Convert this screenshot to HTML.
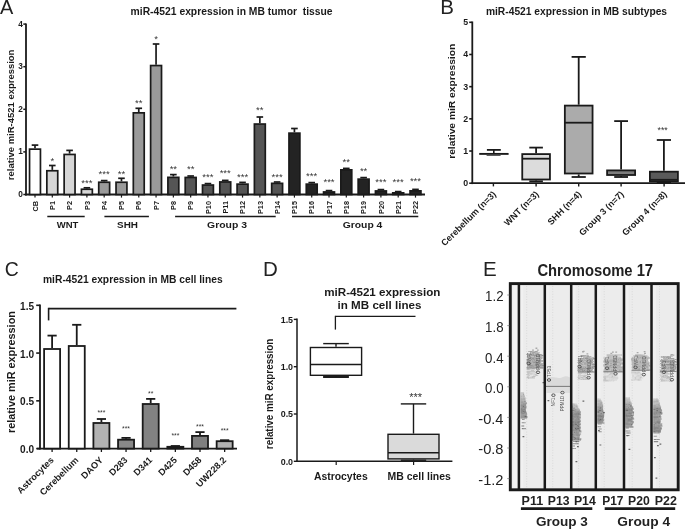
<!DOCTYPE html>
<html><head><meta charset="utf-8"><title>miR-4521 figure</title>
<style>
html,body{margin:0;padding:0;background:#fff;}
body{width:685px;height:530px;overflow:hidden;}
svg{display:block;font-family:"Liberation Sans", sans-serif;will-change:transform;}
</style></head>
<body>
<svg width="685" height="530" viewBox="0 0 685 530">
<defs><filter id="blur2" x="-20%" y="-20%" width="140%" height="140%"><feGaussianBlur stdDeviation="0.55"/></filter><filter id="blur" x="-20%" y="-20%" width="140%" height="140%"><feGaussianBlur stdDeviation="0.9"/></filter></defs>
<rect x="0" y="0" width="685" height="530" fill="#ffffff"/>
<text x="-0.1" y="14.4" font-size="20.5" font-weight="normal" text-anchor="start" fill="#222" textLength="13.3" lengthAdjust="spacingAndGlyphs">A</text>
<text x="130.6" y="15.1" font-size="10.3" font-weight="bold" text-anchor="start" fill="#1a1a1a" textLength="202" lengthAdjust="spacingAndGlyphs" xml:space="preserve">miR-4521 expression in MB tumor  tissue</text>
<line x1="26" y1="23.4" x2="26" y2="195.4" stroke="#1a1a1a" stroke-width="1.8"/>
<line x1="23.3" y1="194.5" x2="26" y2="194.5" stroke="#1a1a1a" stroke-width="1.5"/>
<text x="22.9" y="197" font-size="8.3" font-weight="bold" text-anchor="end" fill="#1a1a1a">0</text>
<line x1="23.3" y1="151.9" x2="26" y2="151.9" stroke="#1a1a1a" stroke-width="1.5"/>
<text x="22.9" y="154.4" font-size="8.3" font-weight="bold" text-anchor="end" fill="#1a1a1a">1</text>
<line x1="23.3" y1="109.3" x2="26" y2="109.3" stroke="#1a1a1a" stroke-width="1.5"/>
<text x="22.9" y="111.8" font-size="8.3" font-weight="bold" text-anchor="end" fill="#1a1a1a">2</text>
<line x1="23.3" y1="66.7" x2="26" y2="66.7" stroke="#1a1a1a" stroke-width="1.5"/>
<text x="22.9" y="69.2" font-size="8.3" font-weight="bold" text-anchor="end" fill="#1a1a1a">3</text>
<line x1="23.3" y1="24.1" x2="26" y2="24.1" stroke="#1a1a1a" stroke-width="1.5"/>
<text x="22.9" y="26.6" font-size="8.3" font-weight="bold" text-anchor="end" fill="#1a1a1a">4</text>
<text x="13.6" y="114.9" font-size="9.7" font-weight="bold" text-anchor="middle" fill="#1a1a1a" textLength="130.6" lengthAdjust="spacingAndGlyphs" transform="rotate(-90 13.6 114.9)">relative miR-4521 expression</text>
<line x1="25.1" y1="194.5" x2="425" y2="194.5" stroke="#1a1a1a" stroke-width="1.8"/>
<line x1="35" y1="148.3" x2="35" y2="145.1" stroke="#1a1a1a" stroke-width="1.7"/>
<line x1="31.7" y1="145.1" x2="38.3" y2="145.1" stroke="#1a1a1a" stroke-width="1.7"/>
<rect x="29.55" y="149.15" width="10.9" height="45.35" fill="#ffffff" stroke="#1a1a1a" stroke-width="1.7"/>
<line x1="35" y1="194.5" x2="35" y2="197.6" stroke="#1a1a1a" stroke-width="1.2"/>
<text x="37.7" y="201" font-size="7.3" font-weight="bold" text-anchor="end" fill="#1a1a1a" transform="rotate(-90 37.7 201)">CB</text>
<line x1="52.3" y1="169.9" x2="52.3" y2="165.5" stroke="#1a1a1a" stroke-width="1.7"/>
<line x1="49" y1="165.5" x2="55.59" y2="165.5" stroke="#1a1a1a" stroke-width="1.7"/>
<rect x="46.84" y="170.75" width="10.9" height="23.75" fill="#d6d6d6" stroke="#1a1a1a" stroke-width="1.7"/>
<line x1="52.3" y1="194.5" x2="52.3" y2="197.6" stroke="#1a1a1a" stroke-width="1.2"/>
<text x="55" y="201" font-size="7.3" font-weight="bold" text-anchor="end" fill="#1a1a1a" transform="rotate(-90 55 201)">P1</text>
<text x="52.3" y="164" font-size="9.6" font-weight="normal" text-anchor="middle" fill="#333">*</text>
<line x1="69.59" y1="153.6" x2="69.59" y2="150.4" stroke="#1a1a1a" stroke-width="1.7"/>
<line x1="66.29" y1="150.4" x2="72.89" y2="150.4" stroke="#1a1a1a" stroke-width="1.7"/>
<rect x="64.14" y="154.45" width="10.9" height="40.05" fill="#d6d6d6" stroke="#1a1a1a" stroke-width="1.7"/>
<line x1="69.59" y1="194.5" x2="69.59" y2="197.6" stroke="#1a1a1a" stroke-width="1.2"/>
<text x="72.29" y="201" font-size="7.3" font-weight="bold" text-anchor="end" fill="#1a1a1a" transform="rotate(-90 72.29 201)">P2</text>
<line x1="86.89" y1="188.4" x2="86.89" y2="187.8" stroke="#1a1a1a" stroke-width="1.7"/>
<line x1="83.59" y1="187.8" x2="90.19" y2="187.8" stroke="#1a1a1a" stroke-width="1.7"/>
<rect x="81.44" y="189.25" width="10.9" height="5.25" fill="#d6d6d6" stroke="#1a1a1a" stroke-width="1.7"/>
<line x1="86.89" y1="194.5" x2="86.89" y2="197.6" stroke="#1a1a1a" stroke-width="1.2"/>
<text x="89.59" y="201" font-size="7.3" font-weight="bold" text-anchor="end" fill="#1a1a1a" transform="rotate(-90 89.59 201)">P3</text>
<text x="86.89" y="185.6" font-size="9.6" font-weight="normal" text-anchor="middle" fill="#333">***</text>
<line x1="104.18" y1="181.4" x2="104.18" y2="180.6" stroke="#1a1a1a" stroke-width="1.7"/>
<line x1="100.88" y1="180.6" x2="107.48" y2="180.6" stroke="#1a1a1a" stroke-width="1.7"/>
<rect x="98.73" y="182.25" width="10.9" height="12.25" fill="#9a9a9a" stroke="#1a1a1a" stroke-width="1.7"/>
<line x1="104.18" y1="194.5" x2="104.18" y2="197.6" stroke="#1a1a1a" stroke-width="1.2"/>
<text x="106.88" y="201" font-size="7.3" font-weight="bold" text-anchor="end" fill="#1a1a1a" transform="rotate(-90 106.88 201)">P4</text>
<text x="104.18" y="176.6" font-size="9.6" font-weight="normal" text-anchor="middle" fill="#333">***</text>
<line x1="121.48" y1="181.4" x2="121.48" y2="178.3" stroke="#1a1a1a" stroke-width="1.7"/>
<line x1="118.18" y1="178.3" x2="124.78" y2="178.3" stroke="#1a1a1a" stroke-width="1.7"/>
<rect x="116.03" y="182.25" width="10.9" height="12.25" fill="#9a9a9a" stroke="#1a1a1a" stroke-width="1.7"/>
<line x1="121.48" y1="194.5" x2="121.48" y2="197.6" stroke="#1a1a1a" stroke-width="1.2"/>
<text x="124.18" y="201" font-size="7.3" font-weight="bold" text-anchor="end" fill="#1a1a1a" transform="rotate(-90 124.18 201)">P5</text>
<text x="121.48" y="176.8" font-size="9.6" font-weight="normal" text-anchor="middle" fill="#333">**</text>
<line x1="138.77" y1="112" x2="138.77" y2="108.3" stroke="#1a1a1a" stroke-width="1.7"/>
<line x1="135.47" y1="108.3" x2="142.07" y2="108.3" stroke="#1a1a1a" stroke-width="1.7"/>
<rect x="133.32" y="112.85" width="10.9" height="81.65" fill="#9a9a9a" stroke="#1a1a1a" stroke-width="1.7"/>
<line x1="138.77" y1="194.5" x2="138.77" y2="197.6" stroke="#1a1a1a" stroke-width="1.2"/>
<text x="141.47" y="201" font-size="7.3" font-weight="bold" text-anchor="end" fill="#1a1a1a" transform="rotate(-90 141.47 201)">P6</text>
<text x="138.77" y="105.5" font-size="9.6" font-weight="normal" text-anchor="middle" fill="#333">**</text>
<line x1="156.06" y1="64.7" x2="156.06" y2="44" stroke="#1a1a1a" stroke-width="1.7"/>
<line x1="152.76" y1="44" x2="159.37" y2="44" stroke="#1a1a1a" stroke-width="1.7"/>
<rect x="150.62" y="65.55" width="10.9" height="128.95" fill="#9a9a9a" stroke="#1a1a1a" stroke-width="1.7"/>
<line x1="156.06" y1="194.5" x2="156.06" y2="197.6" stroke="#1a1a1a" stroke-width="1.2"/>
<text x="158.76" y="201" font-size="7.3" font-weight="bold" text-anchor="end" fill="#1a1a1a" transform="rotate(-90 158.76 201)">P7</text>
<text x="156.06" y="42" font-size="9.6" font-weight="normal" text-anchor="middle" fill="#333">*</text>
<line x1="173.36" y1="176.5" x2="173.36" y2="174.6" stroke="#1a1a1a" stroke-width="1.7"/>
<line x1="170.06" y1="174.6" x2="176.66" y2="174.6" stroke="#1a1a1a" stroke-width="1.7"/>
<rect x="167.91" y="177.35" width="10.9" height="17.15" fill="#555555" stroke="#1a1a1a" stroke-width="1.7"/>
<line x1="173.36" y1="194.5" x2="173.36" y2="197.6" stroke="#1a1a1a" stroke-width="1.2"/>
<text x="176.06" y="201" font-size="7.3" font-weight="bold" text-anchor="end" fill="#1a1a1a" transform="rotate(-90 176.06 201)">P8</text>
<text x="173.36" y="171.8" font-size="9.6" font-weight="normal" text-anchor="middle" fill="#333">**</text>
<line x1="190.66" y1="176.6" x2="190.66" y2="176" stroke="#1a1a1a" stroke-width="1.7"/>
<line x1="187.36" y1="176" x2="193.96" y2="176" stroke="#1a1a1a" stroke-width="1.7"/>
<rect x="185.21" y="177.45" width="10.9" height="17.05" fill="#555555" stroke="#1a1a1a" stroke-width="1.7"/>
<line x1="190.66" y1="194.5" x2="190.66" y2="197.6" stroke="#1a1a1a" stroke-width="1.2"/>
<text x="193.36" y="201" font-size="7.3" font-weight="bold" text-anchor="end" fill="#1a1a1a" transform="rotate(-90 193.36 201)">P9</text>
<text x="190.66" y="171.8" font-size="9.6" font-weight="normal" text-anchor="middle" fill="#333">**</text>
<line x1="207.95" y1="184.2" x2="207.95" y2="183.6" stroke="#1a1a1a" stroke-width="1.7"/>
<line x1="204.65" y1="183.6" x2="211.25" y2="183.6" stroke="#1a1a1a" stroke-width="1.7"/>
<rect x="202.5" y="185.05" width="10.9" height="9.45" fill="#555555" stroke="#1a1a1a" stroke-width="1.7"/>
<line x1="207.95" y1="194.5" x2="207.95" y2="197.6" stroke="#1a1a1a" stroke-width="1.2"/>
<text x="210.65" y="201" font-size="7.3" font-weight="bold" text-anchor="end" fill="#1a1a1a" transform="rotate(-90 210.65 201)">P10</text>
<text x="207.95" y="179.7" font-size="9.6" font-weight="normal" text-anchor="middle" fill="#333">***</text>
<line x1="225.25" y1="181.1" x2="225.25" y2="180.4" stroke="#1a1a1a" stroke-width="1.7"/>
<line x1="221.94" y1="180.4" x2="228.55" y2="180.4" stroke="#1a1a1a" stroke-width="1.7"/>
<rect x="219.8" y="181.95" width="10.9" height="12.55" fill="#555555" stroke="#1a1a1a" stroke-width="1.7"/>
<line x1="225.25" y1="194.5" x2="225.25" y2="197.6" stroke="#1a1a1a" stroke-width="1.2"/>
<text x="227.94" y="201" font-size="7.3" font-weight="bold" text-anchor="end" fill="#1a1a1a" transform="rotate(-90 227.94 201)">P11</text>
<text x="225.25" y="175.6" font-size="9.6" font-weight="normal" text-anchor="middle" fill="#333">***</text>
<line x1="242.54" y1="183.3" x2="242.54" y2="182.4" stroke="#1a1a1a" stroke-width="1.7"/>
<line x1="239.24" y1="182.4" x2="245.84" y2="182.4" stroke="#1a1a1a" stroke-width="1.7"/>
<rect x="237.09" y="184.15" width="10.9" height="10.35" fill="#555555" stroke="#1a1a1a" stroke-width="1.7"/>
<line x1="242.54" y1="194.5" x2="242.54" y2="197.6" stroke="#1a1a1a" stroke-width="1.2"/>
<text x="245.24" y="201" font-size="7.3" font-weight="bold" text-anchor="end" fill="#1a1a1a" transform="rotate(-90 245.24 201)">P12</text>
<text x="242.54" y="179.7" font-size="9.6" font-weight="normal" text-anchor="middle" fill="#333">***</text>
<line x1="259.84" y1="123.2" x2="259.84" y2="117" stroke="#1a1a1a" stroke-width="1.7"/>
<line x1="256.54" y1="117" x2="263.14" y2="117" stroke="#1a1a1a" stroke-width="1.7"/>
<rect x="254.39" y="124.05" width="10.9" height="70.45" fill="#555555" stroke="#1a1a1a" stroke-width="1.7"/>
<line x1="259.84" y1="194.5" x2="259.84" y2="197.6" stroke="#1a1a1a" stroke-width="1.2"/>
<text x="262.54" y="201" font-size="7.3" font-weight="bold" text-anchor="end" fill="#1a1a1a" transform="rotate(-90 262.54 201)">P13</text>
<text x="259.84" y="112.9" font-size="9.6" font-weight="normal" text-anchor="middle" fill="#333">**</text>
<line x1="277.13" y1="182.5" x2="277.13" y2="182" stroke="#1a1a1a" stroke-width="1.7"/>
<line x1="273.83" y1="182" x2="280.43" y2="182" stroke="#1a1a1a" stroke-width="1.7"/>
<rect x="271.68" y="183.35" width="10.9" height="11.15" fill="#555555" stroke="#1a1a1a" stroke-width="1.7"/>
<line x1="277.13" y1="194.5" x2="277.13" y2="197.6" stroke="#1a1a1a" stroke-width="1.2"/>
<text x="279.83" y="201" font-size="7.3" font-weight="bold" text-anchor="end" fill="#1a1a1a" transform="rotate(-90 279.83 201)">P14</text>
<text x="277.13" y="179.5" font-size="9.6" font-weight="normal" text-anchor="middle" fill="#333">***</text>
<line x1="294.43" y1="132.3" x2="294.43" y2="128.5" stroke="#1a1a1a" stroke-width="1.7"/>
<line x1="291.12" y1="128.5" x2="297.73" y2="128.5" stroke="#1a1a1a" stroke-width="1.7"/>
<rect x="288.98" y="133.15" width="10.9" height="61.35" fill="#232323" stroke="#1a1a1a" stroke-width="1.7"/>
<line x1="294.43" y1="194.5" x2="294.43" y2="197.6" stroke="#1a1a1a" stroke-width="1.2"/>
<text x="297.12" y="201" font-size="7.3" font-weight="bold" text-anchor="end" fill="#1a1a1a" transform="rotate(-90 297.12 201)">P15</text>
<line x1="311.72" y1="183.3" x2="311.72" y2="182.6" stroke="#1a1a1a" stroke-width="1.7"/>
<line x1="308.42" y1="182.6" x2="315.02" y2="182.6" stroke="#1a1a1a" stroke-width="1.7"/>
<rect x="306.27" y="184.15" width="10.9" height="10.35" fill="#232323" stroke="#1a1a1a" stroke-width="1.7"/>
<line x1="311.72" y1="194.5" x2="311.72" y2="197.6" stroke="#1a1a1a" stroke-width="1.2"/>
<text x="314.42" y="201" font-size="7.3" font-weight="bold" text-anchor="end" fill="#1a1a1a" transform="rotate(-90 314.42 201)">P16</text>
<text x="311.72" y="178.5" font-size="9.6" font-weight="normal" text-anchor="middle" fill="#333">***</text>
<line x1="329.02" y1="191.1" x2="329.02" y2="190.6" stroke="#1a1a1a" stroke-width="1.7"/>
<line x1="325.72" y1="190.6" x2="332.32" y2="190.6" stroke="#1a1a1a" stroke-width="1.7"/>
<rect x="323.57" y="191.95" width="10.9" height="2.55" fill="#232323" stroke="#1a1a1a" stroke-width="1.7"/>
<line x1="329.02" y1="194.5" x2="329.02" y2="197.6" stroke="#1a1a1a" stroke-width="1.2"/>
<text x="331.72" y="201" font-size="7.3" font-weight="bold" text-anchor="end" fill="#1a1a1a" transform="rotate(-90 331.72 201)">P17</text>
<text x="329.02" y="185.3" font-size="9.6" font-weight="normal" text-anchor="middle" fill="#333">***</text>
<line x1="346.31" y1="169" x2="346.31" y2="168.4" stroke="#1a1a1a" stroke-width="1.7"/>
<line x1="343.01" y1="168.4" x2="349.61" y2="168.4" stroke="#1a1a1a" stroke-width="1.7"/>
<rect x="340.86" y="169.85" width="10.9" height="24.65" fill="#232323" stroke="#1a1a1a" stroke-width="1.7"/>
<line x1="346.31" y1="194.5" x2="346.31" y2="197.6" stroke="#1a1a1a" stroke-width="1.2"/>
<text x="349.01" y="201" font-size="7.3" font-weight="bold" text-anchor="end" fill="#1a1a1a" transform="rotate(-90 349.01 201)">P18</text>
<text x="346.31" y="164.7" font-size="9.6" font-weight="normal" text-anchor="middle" fill="#333">**</text>
<line x1="363.61" y1="178.3" x2="363.61" y2="177.6" stroke="#1a1a1a" stroke-width="1.7"/>
<line x1="360.31" y1="177.6" x2="366.91" y2="177.6" stroke="#1a1a1a" stroke-width="1.7"/>
<rect x="358.16" y="179.15" width="10.9" height="15.35" fill="#232323" stroke="#1a1a1a" stroke-width="1.7"/>
<line x1="363.61" y1="194.5" x2="363.61" y2="197.6" stroke="#1a1a1a" stroke-width="1.2"/>
<text x="366.31" y="201" font-size="7.3" font-weight="bold" text-anchor="end" fill="#1a1a1a" transform="rotate(-90 366.31 201)">P19</text>
<text x="363.61" y="173.7" font-size="9.6" font-weight="normal" text-anchor="middle" fill="#333">**</text>
<line x1="380.9" y1="190.1" x2="380.9" y2="189.6" stroke="#1a1a1a" stroke-width="1.7"/>
<line x1="377.6" y1="189.6" x2="384.2" y2="189.6" stroke="#1a1a1a" stroke-width="1.7"/>
<rect x="375.45" y="190.95" width="10.9" height="3.55" fill="#232323" stroke="#1a1a1a" stroke-width="1.7"/>
<line x1="380.9" y1="194.5" x2="380.9" y2="197.6" stroke="#1a1a1a" stroke-width="1.2"/>
<text x="383.6" y="201" font-size="7.3" font-weight="bold" text-anchor="end" fill="#1a1a1a" transform="rotate(-90 383.6 201)">P20</text>
<text x="380.9" y="185.4" font-size="9.6" font-weight="normal" text-anchor="middle" fill="#333">***</text>
<line x1="398.2" y1="192" x2="398.2" y2="191.6" stroke="#1a1a1a" stroke-width="1.7"/>
<line x1="394.9" y1="191.6" x2="401.5" y2="191.6" stroke="#1a1a1a" stroke-width="1.7"/>
<rect x="392.75" y="192.85" width="10.9" height="1.65" fill="#232323" stroke="#1a1a1a" stroke-width="1.7"/>
<line x1="398.2" y1="194.5" x2="398.2" y2="197.6" stroke="#1a1a1a" stroke-width="1.2"/>
<text x="400.9" y="201" font-size="7.3" font-weight="bold" text-anchor="end" fill="#1a1a1a" transform="rotate(-90 400.9 201)">P21</text>
<text x="398.2" y="184.6" font-size="9.6" font-weight="normal" text-anchor="middle" fill="#333">***</text>
<line x1="415.49" y1="190" x2="415.49" y2="189.4" stroke="#1a1a1a" stroke-width="1.7"/>
<line x1="412.19" y1="189.4" x2="418.79" y2="189.4" stroke="#1a1a1a" stroke-width="1.7"/>
<rect x="410.04" y="190.85" width="10.9" height="3.65" fill="#232323" stroke="#1a1a1a" stroke-width="1.7"/>
<line x1="415.49" y1="194.5" x2="415.49" y2="197.6" stroke="#1a1a1a" stroke-width="1.2"/>
<text x="418.19" y="201" font-size="7.3" font-weight="bold" text-anchor="end" fill="#1a1a1a" transform="rotate(-90 418.19 201)">P22</text>
<text x="415.49" y="183.8" font-size="9.6" font-weight="normal" text-anchor="middle" fill="#333">***</text>
<line x1="47.3" y1="216.5" x2="84.7" y2="216.5" stroke="#1a1a1a" stroke-width="1.6"/>
<line x1="104.4" y1="216.5" x2="148.9" y2="216.5" stroke="#1a1a1a" stroke-width="1.6"/>
<line x1="175.1" y1="216.5" x2="275.7" y2="216.5" stroke="#1a1a1a" stroke-width="1.6"/>
<line x1="292" y1="216.5" x2="418.3" y2="216.5" stroke="#1a1a1a" stroke-width="1.6"/>
<text x="67.6" y="228.2" font-size="9.9" font-weight="bold" text-anchor="middle" fill="#1a1a1a" textLength="21.6" lengthAdjust="spacingAndGlyphs">WNT</text>
<text x="127.5" y="228.2" font-size="9.9" font-weight="bold" text-anchor="middle" fill="#1a1a1a" textLength="20.9" lengthAdjust="spacingAndGlyphs">SHH</text>
<text x="227" y="228.2" font-size="9.9" font-weight="bold" text-anchor="middle" fill="#1a1a1a" textLength="39.9" lengthAdjust="spacingAndGlyphs">Group 3</text>
<text x="362.5" y="228.2" font-size="9.9" font-weight="bold" text-anchor="middle" fill="#1a1a1a" textLength="39.7" lengthAdjust="spacingAndGlyphs">Group 4</text>
<text x="440.2" y="14.4" font-size="20.5" font-weight="normal" text-anchor="start" fill="#222">B</text>
<text x="485.9" y="15.2" font-size="10.3" font-weight="bold" text-anchor="start" fill="#1a1a1a" textLength="181.2" lengthAdjust="spacingAndGlyphs">miR-4521 expression in MB subtypes</text>
<line x1="472.3" y1="21.5" x2="472.3" y2="184.1" stroke="#1a1a1a" stroke-width="1.8"/>
<line x1="469.2" y1="183.2" x2="472.3" y2="183.2" stroke="#1a1a1a" stroke-width="1.6"/>
<text x="468.1" y="186.2" font-size="8.8" font-weight="bold" text-anchor="end" fill="#1a1a1a">0</text>
<line x1="469.2" y1="151.02" x2="472.3" y2="151.02" stroke="#1a1a1a" stroke-width="1.6"/>
<text x="468.1" y="154.02" font-size="8.8" font-weight="bold" text-anchor="end" fill="#1a1a1a">1</text>
<line x1="469.2" y1="118.84" x2="472.3" y2="118.84" stroke="#1a1a1a" stroke-width="1.6"/>
<text x="468.1" y="121.84" font-size="8.8" font-weight="bold" text-anchor="end" fill="#1a1a1a">2</text>
<line x1="469.2" y1="86.66" x2="472.3" y2="86.66" stroke="#1a1a1a" stroke-width="1.6"/>
<text x="468.1" y="89.66" font-size="8.8" font-weight="bold" text-anchor="end" fill="#1a1a1a">3</text>
<line x1="469.2" y1="54.48" x2="472.3" y2="54.48" stroke="#1a1a1a" stroke-width="1.6"/>
<text x="468.1" y="57.48" font-size="8.8" font-weight="bold" text-anchor="end" fill="#1a1a1a">4</text>
<line x1="469.2" y1="22.3" x2="472.3" y2="22.3" stroke="#1a1a1a" stroke-width="1.6"/>
<text x="468.1" y="25.3" font-size="8.8" font-weight="bold" text-anchor="end" fill="#1a1a1a">5</text>
<text x="455.1" y="101.3" font-size="9.2" font-weight="bold" text-anchor="middle" fill="#1a1a1a" textLength="115.1" lengthAdjust="spacingAndGlyphs" transform="rotate(-90 455.1 101.3)">relative miR expression</text>
<line x1="471.4" y1="183.2" x2="685" y2="183.2" stroke="#1a1a1a" stroke-width="1.8"/>
<line x1="493.4" y1="183.2" x2="493.4" y2="186.4" stroke="#1a1a1a" stroke-width="1.4"/>
<line x1="536.1" y1="183.2" x2="536.1" y2="186.4" stroke="#1a1a1a" stroke-width="1.4"/>
<line x1="578.7" y1="183.2" x2="578.7" y2="186.4" stroke="#1a1a1a" stroke-width="1.4"/>
<line x1="621.1" y1="183.2" x2="621.1" y2="186.4" stroke="#1a1a1a" stroke-width="1.4"/>
<line x1="664.1" y1="183.2" x2="664.1" y2="186.4" stroke="#1a1a1a" stroke-width="1.4"/>
<line x1="479.2" y1="153.9" x2="508.6" y2="153.9" stroke="#1a1a1a" stroke-width="1.9"/>
<line x1="486.9" y1="149.9" x2="500.8" y2="149.9" stroke="#1a1a1a" stroke-width="1.8"/>
<line x1="493.8" y1="149.9" x2="493.8" y2="153.9" stroke="#1a1a1a" stroke-width="1.6"/>
<line x1="486.6" y1="155.4" x2="500.6" y2="155.4" stroke="#555" stroke-width="1.1"/>
<line x1="536.1" y1="147.6" x2="536.1" y2="153.2" stroke="#1a1a1a" stroke-width="1.8"/>
<line x1="529.3" y1="147.6" x2="542.9" y2="147.6" stroke="#1a1a1a" stroke-width="1.8"/>
<line x1="536.1" y1="180.4" x2="536.1" y2="181.3" stroke="#1a1a1a" stroke-width="1.8"/>
<line x1="529.3" y1="181.3" x2="542.9" y2="181.3" stroke="#1a1a1a" stroke-width="1.8"/>
<rect x="522.25" y="154.1" width="27.7" height="25.4" fill="#dcdcdc" stroke="#1a1a1a" stroke-width="1.8"/>
<line x1="522.25" y1="158.7" x2="549.95" y2="158.7" stroke="#1a1a1a" stroke-width="1.8"/>
<line x1="578.7" y1="56.9" x2="578.7" y2="104.7" stroke="#1a1a1a" stroke-width="1.8"/>
<line x1="571.6" y1="56.9" x2="585.8" y2="56.9" stroke="#1a1a1a" stroke-width="1.8"/>
<line x1="578.7" y1="174.4" x2="578.7" y2="177" stroke="#1a1a1a" stroke-width="1.8"/>
<line x1="571.6" y1="177" x2="585.8" y2="177" stroke="#1a1a1a" stroke-width="1.8"/>
<rect x="564.85" y="105.6" width="27.7" height="67.9" fill="#ababab" stroke="#1a1a1a" stroke-width="1.8"/>
<line x1="564.85" y1="122.7" x2="592.55" y2="122.7" stroke="#1a1a1a" stroke-width="1.8"/>
<line x1="621.1" y1="121.1" x2="621.1" y2="169.5" stroke="#1a1a1a" stroke-width="1.8"/>
<line x1="614.2" y1="121.1" x2="628" y2="121.1" stroke="#1a1a1a" stroke-width="1.8"/>
<line x1="621.1" y1="175.9" x2="621.1" y2="177" stroke="#1a1a1a" stroke-width="1.8"/>
<line x1="614.2" y1="177" x2="628" y2="177" stroke="#1a1a1a" stroke-width="1.8"/>
<rect x="607.1" y="170.4" width="28" height="4.6" fill="#7e7e7e" stroke="#1a1a1a" stroke-width="1.8"/>
<line x1="663.9" y1="140" x2="663.9" y2="170.8" stroke="#1a1a1a" stroke-width="1.8"/>
<line x1="656.8" y1="140" x2="671" y2="140" stroke="#1a1a1a" stroke-width="1.8"/>
<line x1="663.9" y1="182.3" x2="663.9" y2="182.4" stroke="#1a1a1a" stroke-width="1.8"/>
<line x1="656.8" y1="182.4" x2="671" y2="182.4" stroke="#1a1a1a" stroke-width="1.8"/>
<rect x="649.9" y="171.7" width="28" height="9.7" fill="#5a5a5a" stroke="#1a1a1a" stroke-width="1.8"/>
<line x1="649.9" y1="179.8" x2="677.9" y2="179.8" stroke="#1a1a1a" stroke-width="1.8"/>
<text x="662.6" y="132.5" font-size="8.8" font-weight="normal" text-anchor="middle" fill="#333">***</text>
<text x="496.6" y="194.8" font-size="9" font-weight="bold" text-anchor="end" fill="#1a1a1a" transform="rotate(-45 496.6 194.8)">Cerebellum (n=3)</text>
<text x="539.3" y="194.8" font-size="9" font-weight="bold" text-anchor="end" fill="#1a1a1a" transform="rotate(-45 539.3 194.8)">WNT (n=3)</text>
<text x="581.9" y="194.8" font-size="9" font-weight="bold" text-anchor="end" fill="#1a1a1a" transform="rotate(-45 581.9 194.8)">SHH (n=4)</text>
<text x="624.3" y="194.8" font-size="9" font-weight="bold" text-anchor="end" fill="#1a1a1a" transform="rotate(-45 624.3 194.8)">Group 3 (n=7)</text>
<text x="667.3" y="194.8" font-size="9" font-weight="bold" text-anchor="end" fill="#1a1a1a" transform="rotate(-45 667.3 194.8)">Group 4 (n=8)</text>
<text x="4.8" y="275.9" font-size="20.5" font-weight="normal" text-anchor="start" fill="#222" textLength="14" lengthAdjust="spacingAndGlyphs">C</text>
<text x="43" y="283" font-size="10.3" font-weight="bold" text-anchor="start" fill="#1a1a1a" textLength="179.6" lengthAdjust="spacingAndGlyphs">miR-4521 expression in MB cell lines</text>
<line x1="40" y1="304.5" x2="40" y2="449.5" stroke="#1a1a1a" stroke-width="1.8"/>
<line x1="36.2" y1="448.6" x2="40" y2="448.6" stroke="#1a1a1a" stroke-width="1.6"/>
<text x="34.1" y="453.2" font-size="10" font-weight="bold" text-anchor="end" fill="#1a1a1a" textLength="14" lengthAdjust="spacingAndGlyphs">0.0</text>
<line x1="36.2" y1="400.84" x2="40" y2="400.84" stroke="#1a1a1a" stroke-width="1.6"/>
<text x="34.1" y="405.44" font-size="10" font-weight="bold" text-anchor="end" fill="#1a1a1a" textLength="14" lengthAdjust="spacingAndGlyphs">0.5</text>
<line x1="36.2" y1="353.07" x2="40" y2="353.07" stroke="#1a1a1a" stroke-width="1.6"/>
<text x="34.1" y="357.67" font-size="10" font-weight="bold" text-anchor="end" fill="#1a1a1a" textLength="14" lengthAdjust="spacingAndGlyphs">1.0</text>
<line x1="36.2" y1="305.31" x2="40" y2="305.31" stroke="#1a1a1a" stroke-width="1.6"/>
<text x="34.1" y="309.91" font-size="10" font-weight="bold" text-anchor="end" fill="#1a1a1a" textLength="14" lengthAdjust="spacingAndGlyphs">1.5</text>
<text x="14.6" y="372.1" font-size="10.9" font-weight="bold" text-anchor="middle" fill="#1a1a1a" textLength="122" lengthAdjust="spacingAndGlyphs" transform="rotate(-90 14.6 372.1)">relative miR expression</text>
<line x1="37" y1="448.6" x2="237" y2="448.6" stroke="#1a1a1a" stroke-width="1.8"/>
<line x1="52.1" y1="348.1" x2="52.1" y2="335.6" stroke="#1a1a1a" stroke-width="1.8"/>
<line x1="47.5" y1="335.6" x2="56.7" y2="335.6" stroke="#1a1a1a" stroke-width="1.8"/>
<rect x="44.1" y="349" width="16" height="99.6" fill="#ffffff" stroke="#1a1a1a" stroke-width="1.8"/>
<line x1="52.1" y1="448.6" x2="52.1" y2="452" stroke="#1a1a1a" stroke-width="1.3"/>
<text x="54.3" y="460.7" font-size="9.2" font-weight="bold" text-anchor="end" fill="#1a1a1a" transform="rotate(-45 54.3 460.7)">Astrocytes</text>
<line x1="76.75" y1="345.1" x2="76.75" y2="324.8" stroke="#1a1a1a" stroke-width="1.8"/>
<line x1="72.15" y1="324.8" x2="81.35" y2="324.8" stroke="#1a1a1a" stroke-width="1.8"/>
<rect x="68.75" y="346" width="16" height="102.6" fill="#ffffff" stroke="#1a1a1a" stroke-width="1.8"/>
<line x1="76.75" y1="448.6" x2="76.75" y2="452" stroke="#1a1a1a" stroke-width="1.3"/>
<text x="78.95" y="460.7" font-size="9.2" font-weight="bold" text-anchor="end" fill="#1a1a1a" transform="rotate(-45 78.95 460.7)">Cerebellum</text>
<line x1="101.4" y1="422.1" x2="101.4" y2="419" stroke="#1a1a1a" stroke-width="1.8"/>
<line x1="96.8" y1="419" x2="106" y2="419" stroke="#1a1a1a" stroke-width="1.8"/>
<rect x="93.4" y="423" width="16" height="25.6" fill="#b2b2b2" stroke="#1a1a1a" stroke-width="1.8"/>
<line x1="101.4" y1="448.6" x2="101.4" y2="452" stroke="#1a1a1a" stroke-width="1.3"/>
<text x="103.6" y="460.7" font-size="9.2" font-weight="bold" text-anchor="end" fill="#1a1a1a" transform="rotate(-45 103.6 460.7)">DAOY</text>
<text x="101.4" y="414.7" font-size="6.8" font-weight="normal" text-anchor="middle" fill="#333">***</text>
<line x1="126.05" y1="438.8" x2="126.05" y2="437.9" stroke="#1a1a1a" stroke-width="1.8"/>
<line x1="121.45" y1="437.9" x2="130.65" y2="437.9" stroke="#1a1a1a" stroke-width="1.8"/>
<rect x="118.05" y="439.7" width="16" height="8.9" fill="#888888" stroke="#1a1a1a" stroke-width="1.8"/>
<line x1="126.05" y1="448.6" x2="126.05" y2="452" stroke="#1a1a1a" stroke-width="1.3"/>
<text x="128.25" y="460.7" font-size="9.2" font-weight="bold" text-anchor="end" fill="#1a1a1a" transform="rotate(-45 128.25 460.7)">D283</text>
<text x="126.05" y="431.3" font-size="6.8" font-weight="normal" text-anchor="middle" fill="#333">***</text>
<line x1="150.7" y1="403.1" x2="150.7" y2="398.9" stroke="#1a1a1a" stroke-width="1.8"/>
<line x1="146.1" y1="398.9" x2="155.3" y2="398.9" stroke="#1a1a1a" stroke-width="1.8"/>
<rect x="142.7" y="404" width="16" height="44.6" fill="#828282" stroke="#1a1a1a" stroke-width="1.8"/>
<line x1="150.7" y1="448.6" x2="150.7" y2="452" stroke="#1a1a1a" stroke-width="1.3"/>
<text x="152.9" y="460.7" font-size="9.2" font-weight="bold" text-anchor="end" fill="#1a1a1a" transform="rotate(-45 152.9 460.7)">D341</text>
<text x="150.7" y="396.1" font-size="6.8" font-weight="normal" text-anchor="middle" fill="#333">**</text>
<line x1="175.35" y1="445.9" x2="175.35" y2="446" stroke="#1a1a1a" stroke-width="1.8"/>
<line x1="170.75" y1="446" x2="179.95" y2="446" stroke="#1a1a1a" stroke-width="1.8"/>
<rect x="167.35" y="446.8" width="16" height="1.8" fill="#333333" stroke="#1a1a1a" stroke-width="1.8"/>
<line x1="175.35" y1="448.6" x2="175.35" y2="452" stroke="#1a1a1a" stroke-width="1.3"/>
<text x="177.55" y="460.7" font-size="9.2" font-weight="bold" text-anchor="end" fill="#1a1a1a" transform="rotate(-45 177.55 460.7)">D425</text>
<text x="175.35" y="438.4" font-size="6.8" font-weight="normal" text-anchor="middle" fill="#333">***</text>
<line x1="200" y1="435" x2="200" y2="432.1" stroke="#1a1a1a" stroke-width="1.8"/>
<line x1="195.4" y1="432.1" x2="204.6" y2="432.1" stroke="#1a1a1a" stroke-width="1.8"/>
<rect x="192" y="435.9" width="16" height="12.7" fill="#808080" stroke="#1a1a1a" stroke-width="1.8"/>
<line x1="200" y1="448.6" x2="200" y2="452" stroke="#1a1a1a" stroke-width="1.3"/>
<text x="202.2" y="460.7" font-size="9.2" font-weight="bold" text-anchor="end" fill="#1a1a1a" transform="rotate(-45 202.2 460.7)">D458</text>
<text x="200" y="428.9" font-size="6.8" font-weight="normal" text-anchor="middle" fill="#333">***</text>
<line x1="224.65" y1="440.3" x2="224.65" y2="440.2" stroke="#1a1a1a" stroke-width="1.8"/>
<line x1="220.05" y1="440.2" x2="229.25" y2="440.2" stroke="#1a1a1a" stroke-width="1.8"/>
<rect x="216.65" y="441.2" width="16" height="7.4" fill="#b2b2b2" stroke="#1a1a1a" stroke-width="1.8"/>
<line x1="224.65" y1="448.6" x2="224.65" y2="452" stroke="#1a1a1a" stroke-width="1.3"/>
<text x="226.85" y="460.7" font-size="9.2" font-weight="bold" text-anchor="end" fill="#1a1a1a" transform="rotate(-45 226.85 460.7)">UW228.2</text>
<text x="224.65" y="433.1" font-size="6.8" font-weight="normal" text-anchor="middle" fill="#333">***</text>
<line x1="48.6" y1="308.6" x2="236.4" y2="308.6" stroke="#1a1a1a" stroke-width="1.6"/>
<line x1="48.6" y1="307.8" x2="48.6" y2="320.4" stroke="#1a1a1a" stroke-width="1.6"/>
<text x="263.1" y="275.9" font-size="20.5" font-weight="normal" text-anchor="start" fill="#222">D</text>
<text x="382.3" y="295.6" font-size="11.4" font-weight="bold" text-anchor="middle" fill="#1a1a1a" textLength="116.2" lengthAdjust="spacingAndGlyphs">miR-4521 expression</text>
<text x="379.5" y="308.9" font-size="11.4" font-weight="bold" text-anchor="middle" fill="#1a1a1a" textLength="83.8" lengthAdjust="spacingAndGlyphs">in MB cell lines</text>
<line x1="297" y1="318.6" x2="297" y2="462" stroke="#1a1a1a" stroke-width="1.5"/>
<line x1="293.8" y1="461.3" x2="297" y2="461.3" stroke="#1a1a1a" stroke-width="1.4"/>
<text x="293.1" y="464.5" font-size="9.3" font-weight="bold" text-anchor="end" fill="#1a1a1a" textLength="12.4" lengthAdjust="spacingAndGlyphs">0.0</text>
<line x1="293.8" y1="414" x2="297" y2="414" stroke="#1a1a1a" stroke-width="1.4"/>
<text x="293.1" y="417.2" font-size="9.3" font-weight="bold" text-anchor="end" fill="#1a1a1a" textLength="12.4" lengthAdjust="spacingAndGlyphs">0.5</text>
<line x1="293.8" y1="366.7" x2="297" y2="366.7" stroke="#1a1a1a" stroke-width="1.4"/>
<text x="293.1" y="369.9" font-size="9.3" font-weight="bold" text-anchor="end" fill="#1a1a1a" textLength="12.4" lengthAdjust="spacingAndGlyphs">1.0</text>
<line x1="293.8" y1="319.4" x2="297" y2="319.4" stroke="#1a1a1a" stroke-width="1.4"/>
<text x="293.1" y="322.6" font-size="9.3" font-weight="bold" text-anchor="end" fill="#1a1a1a" textLength="12.4" lengthAdjust="spacingAndGlyphs">1.5</text>
<text x="273.2" y="393.9" font-size="10" font-weight="bold" text-anchor="middle" fill="#1a1a1a" textLength="110.5" lengthAdjust="spacingAndGlyphs" transform="rotate(-90 273.2 393.9)">relative miR expression</text>
<line x1="296.3" y1="461.3" x2="452.4" y2="461.3" stroke="#1a1a1a" stroke-width="1.5"/>
<line x1="336.2" y1="461.3" x2="336.2" y2="465" stroke="#1a1a1a" stroke-width="1.2"/>
<line x1="413.6" y1="461.3" x2="413.6" y2="465" stroke="#1a1a1a" stroke-width="1.2"/>
<line x1="336" y1="343.6" x2="336" y2="346.8" stroke="#1a1a1a" stroke-width="1.4"/>
<line x1="323.2" y1="343.6" x2="348.8" y2="343.6" stroke="#1a1a1a" stroke-width="1.4"/>
<line x1="336" y1="376" x2="336" y2="377" stroke="#1a1a1a" stroke-width="1.4"/>
<line x1="323.2" y1="377" x2="348.8" y2="377" stroke="#1a1a1a" stroke-width="1.4"/>
<rect x="310.4" y="347.5" width="51.2" height="27.8" fill="#ffffff" stroke="#1a1a1a" stroke-width="1.4"/>
<line x1="310.4" y1="364.5" x2="361.6" y2="364.5" stroke="#1a1a1a" stroke-width="1.4"/>
<line x1="323.2" y1="377" x2="348.8" y2="377" stroke="#1a1a1a" stroke-width="1.9"/>
<line x1="413.5" y1="403.9" x2="413.5" y2="433.6" stroke="#1a1a1a" stroke-width="1.4"/>
<line x1="400.8" y1="403.9" x2="426.2" y2="403.9" stroke="#1a1a1a" stroke-width="1.4"/>
<line x1="413.5" y1="459.6" x2="413.5" y2="460.2" stroke="#1a1a1a" stroke-width="1.4"/>
<line x1="400.8" y1="460.2" x2="426.2" y2="460.2" stroke="#1a1a1a" stroke-width="1.4"/>
<rect x="388" y="434.3" width="51" height="24.6" fill="#dadada" stroke="#1a1a1a" stroke-width="1.4"/>
<line x1="388" y1="452.7" x2="439" y2="452.7" stroke="#1a1a1a" stroke-width="1.4"/>
<text x="415.6" y="401" font-size="11" font-weight="normal" text-anchor="middle" fill="#333">***</text>
<line x1="335.4" y1="316.4" x2="415.5" y2="316.4" stroke="#1a1a1a" stroke-width="1.3"/>
<line x1="335.4" y1="315.8" x2="335.4" y2="329.6" stroke="#1a1a1a" stroke-width="1.3"/>
<text x="340.8" y="479.6" font-size="10" font-weight="bold" text-anchor="middle" fill="#1a1a1a" textLength="53.8" lengthAdjust="spacingAndGlyphs">Astrocytes</text>
<text x="419.2" y="479.6" font-size="10" font-weight="bold" text-anchor="middle" fill="#1a1a1a" textLength="63.3" lengthAdjust="spacingAndGlyphs">MB cell lines</text>
<text x="483.1" y="276.2" font-size="20.5" font-weight="normal" text-anchor="start" fill="#222">E</text>
<text x="537.4" y="276.2" font-size="16" font-weight="bold" text-anchor="start" fill="#222" textLength="115.7" lengthAdjust="spacingAndGlyphs">Chromosome 17</text>
<rect x="510.7" y="284" width="167.5" height="205.3" fill="#ececec" stroke="none" stroke-width="0"/>
<rect x="513.3" y="285.5" width="4.4" height="202.5" fill="#f1f1f1" stroke="none" stroke-width="0"/>
<rect x="520.2" y="285.5" width="3.2" height="202.5" fill="#f1f1f1" stroke="none" stroke-width="0"/>
<line x1="526.67" y1="286" x2="526.67" y2="488" stroke="#d2d2d2" stroke-width="0.7" stroke-dasharray="1 1.6"/>
<rect x="546.1" y="285.5" width="3.2" height="202.5" fill="#f1f1f1" stroke="none" stroke-width="0"/>
<line x1="552.72" y1="286" x2="552.72" y2="488" stroke="#d2d2d2" stroke-width="0.7" stroke-dasharray="1 1.6"/>
<rect x="572.5" y="285.5" width="3.2" height="202.5" fill="#f1f1f1" stroke="none" stroke-width="0"/>
<line x1="578.58" y1="286" x2="578.58" y2="488" stroke="#d2d2d2" stroke-width="0.7" stroke-dasharray="1 1.6"/>
<rect x="597.1" y="285.5" width="3.2" height="202.5" fill="#f1f1f1" stroke="none" stroke-width="0"/>
<line x1="604.26" y1="286" x2="604.26" y2="488" stroke="#d2d2d2" stroke-width="0.7" stroke-dasharray="1 1.6"/>
<rect x="625.3" y="285.5" width="3.2" height="202.5" fill="#f1f1f1" stroke="none" stroke-width="0"/>
<line x1="632.25" y1="286" x2="632.25" y2="488" stroke="#d2d2d2" stroke-width="0.7" stroke-dasharray="1 1.6"/>
<rect x="652.8" y="285.5" width="3.2" height="202.5" fill="#f1f1f1" stroke="none" stroke-width="0"/>
<line x1="659.51" y1="286" x2="659.51" y2="488" stroke="#d2d2d2" stroke-width="0.7" stroke-dasharray="1 1.6"/>
<g filter="url(#blur2)">
<path d="M528.2 351.0h1.7v1.05h-1.7zM534.4 353.0h1.8v1.05h-1.8zM538.1 353.0h1.2v1.05h-1.2zM535.2 356.0h1.5v1.05h-1.5zM536.7 356.0h2.6v1.05h-2.6zM539.3 356.0h1.7v1.05h-1.7zM535.0 357.0h2.4v1.05h-2.4zM529.9 358.0h2.1v1.05h-2.1zM526.4 359.0h2.9v1.05h-2.9zM526.5 360.0h1.8v1.05h-1.8zM537.4 361.0h1.6v1.05h-1.6zM530.2 362.0h2.9v1.05h-2.9zM526.8 363.0h2.1v1.05h-2.1zM532.4 363.0h2.5v1.05h-2.5zM540.0 363.0h2.3v1.05h-2.3zM526.9 364.0h2.8v1.05h-2.8zM531.4 364.0h3.1v1.05h-3.1zM543.4 365.0h0.4v1.05h-0.4zM527.0 366.0h1.4v1.05h-1.4zM534.0 366.0h2.4v1.05h-2.4zM526.6 367.0h2.1v1.05h-2.1zM539.5 367.0h1.5v1.05h-1.5zM541.0 367.0h1.5v1.05h-1.5zM584.0 355.0h2.5v1.05h-2.5zM580.4 356.0h1.4v1.05h-1.4zM585.3 356.0h1.3v1.05h-1.3zM588.1 357.0h1.9v1.05h-1.9zM577.8 358.0h1.3v1.05h-1.3zM590.0 358.0h2.6v1.05h-2.6zM578.7 359.0h2.4v1.05h-2.4zM581.1 359.0h2.8v1.05h-2.8zM583.4 360.0h1.8v1.05h-1.8zM587.6 360.0h2.6v1.05h-2.6zM578.1 361.0h2.1v1.05h-2.1zM582.6 361.0h1.7v1.05h-1.7zM592.2 361.0h1.6v1.05h-1.6zM577.4 362.0h2.6v1.05h-2.6zM581.5 362.0h2.0v1.05h-2.0zM583.4 362.0h2.9v1.05h-2.9zM586.3 362.0h1.4v1.05h-1.4zM590.4 363.0h1.9v1.05h-1.9zM583.3 364.0h2.9v1.05h-2.9zM587.6 364.0h2.1v1.05h-2.1zM589.7 364.0h2.0v1.05h-2.0zM584.4 365.0h1.3v1.05h-1.3zM587.9 365.0h1.7v1.05h-1.7zM578.7 366.0h2.6v1.05h-2.6zM586.8 369.0h1.5v1.05h-1.5zM589.8 369.0h3.2v1.05h-3.2zM620.8 354.5h1.3v1.05h-1.3zM607.7 356.5h2.5v1.05h-2.5zM606.5 358.5h2.2v1.05h-2.2zM612.3 358.5h2.2v1.05h-2.2zM605.5 359.5h2.6v1.05h-2.6zM608.1 359.5h1.9v1.05h-1.9zM604.5 363.5h2.5v1.05h-2.5zM612.3 363.5h1.9v1.05h-1.9zM614.1 363.5h1.9v1.05h-1.9zM607.7 364.5h2.4v1.05h-2.4zM620.8 364.5h0.5v1.05h-0.5zM611.7 365.5h1.4v1.05h-1.4zM618.4 365.5h2.5v1.05h-2.5zM615.1 366.5h1.9v1.05h-1.9zM617.0 366.5h1.6v1.05h-1.6zM617.8 367.5h1.4v1.05h-1.4zM620.7 368.5h2.1v1.05h-2.1zM616.1 369.5h2.6v1.05h-2.6zM614.7 370.5h2.8v1.05h-2.8zM636.9 356.5h2.9v1.05h-2.9zM637.5 357.5h2.5v1.05h-2.5zM633.9 358.5h2.9v1.05h-2.9zM645.0 358.5h1.7v1.05h-1.7zM631.0 359.5h2.0v1.05h-2.0zM633.0 359.5h1.3v1.05h-1.3zM634.3 359.5h2.1v1.05h-2.1zM646.2 359.5h1.5v1.05h-1.5zM631.7 360.5h2.3v1.05h-2.3zM646.9 360.5h1.3v1.05h-1.3zM636.5 361.5h3.0v1.05h-3.0zM631.4 363.5h2.1v1.05h-2.1zM633.5 363.5h2.8v1.05h-2.8zM636.3 363.5h2.8v1.05h-2.8zM640.6 363.5h3.1v1.05h-3.1zM635.2 364.5h3.1v1.05h-3.1zM638.4 364.5h3.1v1.05h-3.1zM647.9 366.5h1.5v1.05h-1.5zM648.6 368.5h1.1v1.05h-1.1zM632.4 369.5h2.5v1.05h-2.5zM669.4 356.0h2.2v1.05h-2.2zM664.0 359.0h2.4v1.05h-2.4zM666.4 359.0h2.2v1.05h-2.2zM665.2 365.0h1.6v1.05h-1.6zM661.1 366.0h1.5v1.05h-1.5zM672.0 366.0h1.4v1.05h-1.4zM675.5 369.0h0.5v1.05h-0.5zM659.9 370.0h2.7v1.05h-2.7zM667.5 370.0h3.1v1.05h-3.1zM670.6 370.0h2.7v1.05h-2.7zM520.6 392.5h2.4v1.05h-2.4zM520.6 394.5h2.1v1.05h-2.1zM522.5 397.5h2.6v1.05h-2.6zM572.0 404.5h2.2v1.05h-2.2zM599.3 399.5h1.6v1.05h-1.6zM597.3 401.5h1.8v1.05h-1.8zM628.4 397.5h1.5v1.05h-1.5zM628.4 400.5h1.9v1.05h-1.9zM630.4 401.5h0.8v1.05h-0.8zM656.0 399.5h2.7v1.05h-2.7zM653.2 400.5h3.1v1.05h-3.1z" fill="#aeaeae"/>
<path d="M529.8 351.0h3.0v1.05h-3.0zM534.9 351.0h2.8v1.05h-2.8zM532.8 352.0h3.0v1.05h-3.0zM538.6 352.0h0.9v1.05h-0.9zM536.2 353.0h1.9v1.05h-1.9zM526.3 354.0h3.0v1.05h-3.0zM527.4 355.0h2.8v1.05h-2.8zM530.3 355.0h2.9v1.05h-2.9zM540.3 355.0h1.7v1.05h-1.7zM533.4 356.0h1.8v1.05h-1.8zM529.5 357.0h2.6v1.05h-2.6zM534.2 358.0h2.8v1.05h-2.8zM532.2 359.0h3.1v1.05h-3.1zM538.4 359.0h2.9v1.05h-2.9zM533.8 360.0h1.7v1.05h-1.7zM541.4 360.0h1.3v1.05h-1.3zM539.1 361.0h2.1v1.05h-2.1zM526.3 362.0h1.9v1.05h-1.9zM531.1 363.0h1.3v1.05h-1.3zM534.9 363.0h1.5v1.05h-1.5zM536.4 363.0h2.0v1.05h-2.0zM542.3 363.0h0.9v1.05h-0.9zM539.8 364.0h3.0v1.05h-3.0zM528.4 366.0h2.7v1.05h-2.7zM531.1 366.0h2.9v1.05h-2.9zM537.3 367.0h2.2v1.05h-2.2zM542.5 367.0h0.6v1.05h-0.6zM586.6 356.0h3.1v1.05h-3.1zM579.1 358.0h2.7v1.05h-2.7zM581.8 358.0h2.7v1.05h-2.7zM588.8 359.0h3.0v1.05h-3.0zM580.3 361.0h2.4v1.05h-2.4zM586.2 363.0h1.5v1.05h-1.5zM578.2 364.0h2.0v1.05h-2.0zM577.5 365.0h2.9v1.05h-2.9zM591.5 366.0h3.0v1.05h-3.0zM586.5 367.0h2.3v1.05h-2.3zM588.8 367.0h2.7v1.05h-2.7zM577.5 368.0h2.6v1.05h-2.6zM580.1 370.0h1.7v1.05h-1.7zM579.5 371.0h2.1v1.05h-2.1zM584.6 371.0h2.4v1.05h-2.4zM591.8 371.0h1.5v1.05h-1.5zM617.2 357.5h1.7v1.05h-1.7zM604.3 358.5h2.2v1.05h-2.2zM619.1 358.5h3.1v1.05h-3.1zM604.1 359.5h1.4v1.05h-1.4zM615.3 359.5h2.7v1.05h-2.7zM617.6 360.5h2.5v1.05h-2.5zM603.4 361.5h1.9v1.05h-1.9zM609.2 361.5h3.0v1.05h-3.0zM614.9 361.5h3.1v1.05h-3.1zM615.2 362.5h2.6v1.05h-2.6zM620.0 363.5h1.4v1.05h-1.4zM619.5 364.5h1.3v1.05h-1.3zM606.3 365.5h2.7v1.05h-2.7zM605.8 367.5h2.0v1.05h-2.0zM621.8 367.5h1.1v1.05h-1.1zM619.4 368.5h1.3v1.05h-1.3zM605.2 370.5h3.1v1.05h-3.1zM610.7 370.5h2.2v1.05h-2.2zM618.9 370.5h2.8v1.05h-2.8zM603.6 371.5h3.0v1.05h-3.0zM614.1 371.5h2.1v1.05h-2.1zM635.1 354.5h2.6v1.05h-2.6zM637.7 354.5h2.2v1.05h-2.2zM639.9 354.5h1.8v1.05h-1.8zM634.6 355.5h3.0v1.05h-3.0zM641.4 356.5h3.0v1.05h-3.0zM644.4 356.5h2.4v1.05h-2.4zM648.5 356.5h0.5v1.05h-0.5zM644.5 357.5h2.7v1.05h-2.7zM639.0 358.5h3.0v1.05h-3.0zM636.3 360.5h3.1v1.05h-3.1zM644.2 360.5h2.6v1.05h-2.6zM639.2 363.5h1.4v1.05h-1.4zM647.3 364.5h2.5v1.05h-2.5zM639.8 365.5h2.3v1.05h-2.3zM648.6 365.5h1.8v1.05h-1.8zM631.8 366.5h1.8v1.05h-1.8zM637.4 366.5h1.9v1.05h-1.9zM642.0 367.5h1.3v1.05h-1.3zM642.4 368.5h1.5v1.05h-1.5zM647.0 368.5h1.6v1.05h-1.6zM634.9 369.5h2.9v1.05h-2.9zM640.4 369.5h2.7v1.05h-2.7zM665.5 357.0h1.5v1.05h-1.5zM667.0 357.0h2.7v1.05h-2.7zM669.8 357.0h1.2v1.05h-1.2zM669.2 358.0h2.8v1.05h-2.8zM672.0 358.0h2.3v1.05h-2.3zM674.5 359.0h1.8v1.05h-1.8zM661.1 362.0h2.0v1.05h-2.0zM672.1 362.0h2.9v1.05h-2.9zM670.7 363.0h2.2v1.05h-2.2zM673.4 364.0h1.8v1.05h-1.8zM675.3 364.0h1.4v1.05h-1.4zM670.2 365.0h2.0v1.05h-2.0zM670.5 366.0h1.6v1.05h-1.6zM673.4 366.0h2.6v1.05h-2.6zM667.4 367.0h2.5v1.05h-2.5zM674.2 367.0h1.4v1.05h-1.4zM675.5 367.0h0.7v1.05h-0.7zM661.0 368.0h1.9v1.05h-1.9zM663.4 369.0h1.8v1.05h-1.8zM672.8 369.0h2.7v1.05h-2.7zM664.4 370.0h3.1v1.05h-3.1zM673.3 370.0h1.9v1.05h-1.9zM659.9 371.0h1.4v1.05h-1.4zM673.6 371.0h1.5v1.05h-1.5zM520.6 397.5h1.9v1.05h-1.9zM520.6 400.5h2.9v1.05h-2.9zM572.0 405.5h1.4v1.05h-1.4zM572.0 406.5h1.6v1.05h-1.6zM575.8 406.5h2.0v1.05h-2.0zM572.0 407.5h1.3v1.05h-1.3zM572.2 448.0h2.6v1.05h-2.6zM599.1 401.5h2.0v1.05h-2.0zM601.1 401.5h1.1v1.05h-1.1zM597.3 404.5h1.9v1.05h-1.9zM625.4 400.5h3.0v1.05h-3.0zM656.3 400.5h2.1v1.05h-2.1zM657.7 401.5h1.1v1.05h-1.1zM653.2 404.5h2.9v1.05h-2.9zM656.1 404.5h1.5v1.05h-1.5zM659.5 404.5h0.6v1.05h-0.6z" fill="#a2a2a2"/>
<path d="M532.8 351.0h2.1v1.05h-2.1zM535.9 352.0h2.7v1.05h-2.7zM526.8 357.0h2.7v1.05h-2.7zM532.4 367.0h2.8v1.05h-2.8zM526.8 369.0h3.1v1.05h-3.1zM578.7 356.0h1.8v1.05h-1.8zM583.0 357.0h2.3v1.05h-2.3zM591.3 357.0h2.7v1.05h-2.7zM578.2 363.0h2.9v1.05h-2.9zM581.2 363.0h2.5v1.05h-2.5zM585.7 365.0h2.2v1.05h-2.2zM589.6 365.0h2.0v1.05h-2.0zM583.1 376.0h2.0v1.05h-2.0zM613.7 354.5h1.3v1.05h-1.3zM611.7 356.5h1.7v1.05h-1.7zM615.4 356.5h3.0v1.05h-3.0zM620.1 356.5h0.3v1.05h-0.3zM603.3 357.5h2.6v1.05h-2.6zM605.9 357.5h2.8v1.05h-2.8zM612.7 357.5h2.1v1.05h-2.1zM608.7 358.5h2.3v1.05h-2.3zM611.0 358.5h1.3v1.05h-1.3zM614.5 358.5h2.6v1.05h-2.6zM607.0 363.5h2.9v1.05h-2.9zM610.0 368.5h2.1v1.05h-2.1zM614.1 368.5h2.4v1.05h-2.4zM621.7 370.5h0.8v1.05h-0.8zM606.3 372.5h2.3v1.05h-2.3zM611.6 375.5h1.7v1.05h-1.7zM611.4 376.5h1.4v1.05h-1.4zM610.8 379.5h1.7v1.05h-1.7zM641.7 354.5h2.0v1.05h-2.0zM638.0 359.5h2.9v1.05h-2.9zM644.8 359.5h1.4v1.05h-1.4zM636.8 372.5h2.4v1.05h-2.4zM637.4 379.5h2.5v1.05h-2.5zM660.8 357.0h2.3v1.05h-2.3zM676.3 359.0h1.4v1.05h-1.4zM675.0 362.0h1.7v1.05h-1.7zM662.8 363.0h2.0v1.05h-2.0zM669.9 367.0h1.5v1.05h-1.5zM660.5 369.0h2.9v1.05h-2.9zM669.6 369.0h1.5v1.05h-1.5zM664.3 375.0h2.0v1.05h-2.0zM662.0 376.0h2.2v1.05h-2.2zM668.1 376.0h1.4v1.05h-1.4zM667.0 377.0h2.1v1.05h-2.1zM669.7 380.0h1.8v1.05h-1.8zM597.3 399.5h2.0v1.05h-2.0zM600.5 400.5h1.3v1.05h-1.3zM625.4 398.5h2.7v1.05h-2.7zM628.1 398.5h1.4v1.05h-1.4zM628.9 399.5h1.5v1.05h-1.5zM625.4 401.5h1.3v1.05h-1.3zM655.7 398.5h2.2v1.05h-2.2zM653.2 399.5h2.8v1.05h-2.8zM658.4 400.5h0.7v1.05h-0.7zM653.2 402.5h1.9v1.05h-1.9z" fill="#bababa"/>
<path d="M531.4 352.0h1.4v1.05h-1.4zM532.4 354.0h1.7v1.05h-1.7zM539.3 354.0h2.1v1.05h-2.1zM527.5 358.0h2.4v1.05h-2.4zM529.3 359.0h1.4v1.05h-1.4zM535.3 359.0h3.1v1.05h-3.1zM528.3 360.0h3.1v1.05h-3.1zM535.5 360.0h1.6v1.05h-1.6zM538.9 360.0h2.5v1.05h-2.5zM542.7 360.0h0.4v1.05h-0.4zM526.8 361.0h1.9v1.05h-1.9zM531.5 361.0h1.4v1.05h-1.4zM534.9 361.0h2.5v1.05h-2.5zM528.2 362.0h2.0v1.05h-2.0zM538.4 363.0h1.6v1.05h-1.6zM536.7 364.0h3.1v1.05h-3.1zM537.9 365.0h1.7v1.05h-1.7zM539.6 365.0h2.3v1.05h-2.3zM592.6 358.0h2.2v1.05h-2.2zM577.7 360.0h2.7v1.05h-2.7zM580.4 360.0h3.0v1.05h-3.0zM588.9 361.0h2.0v1.05h-2.0zM590.8 361.0h1.4v1.05h-1.4zM590.8 362.0h1.5v1.05h-1.5zM591.7 364.0h2.3v1.05h-2.3zM594.0 364.0h0.7v1.05h-0.7zM594.5 366.0h1.0v1.05h-1.0zM579.7 367.0h3.0v1.05h-3.0zM584.7 367.0h1.7v1.05h-1.7zM580.1 368.0h1.6v1.05h-1.6zM581.7 368.0h2.8v1.05h-2.8zM584.4 368.0h1.5v1.05h-1.5zM577.6 369.0h1.8v1.05h-1.8zM588.3 369.0h1.5v1.05h-1.5zM577.4 370.0h2.7v1.05h-2.7zM587.4 370.0h2.6v1.05h-2.6zM590.0 370.0h2.5v1.05h-2.5zM577.9 371.0h1.6v1.05h-1.6zM616.0 355.5h1.5v1.05h-1.5zM618.9 357.5h2.2v1.05h-2.2zM610.0 359.5h2.3v1.05h-2.3zM619.9 359.5h2.0v1.05h-2.0zM605.2 360.5h2.1v1.05h-2.1zM612.2 361.5h1.4v1.05h-1.4zM612.6 362.5h2.6v1.05h-2.6zM603.3 364.5h3.0v1.05h-3.0zM606.4 364.5h1.3v1.05h-1.3zM610.1 364.5h3.2v1.05h-3.2zM609.0 365.5h2.7v1.05h-2.7zM615.7 365.5h2.7v1.05h-2.7zM607.8 367.5h2.5v1.05h-2.5zM608.8 371.5h1.7v1.05h-1.7zM617.7 371.5h3.2v1.05h-3.2zM640.3 355.5h3.2v1.05h-3.2zM646.3 355.5h1.1v1.05h-1.1zM635.7 357.5h1.8v1.05h-1.8zM631.0 358.5h2.8v1.05h-2.8zM642.0 358.5h3.0v1.05h-3.0zM646.6 358.5h1.8v1.05h-1.8zM634.0 360.5h2.3v1.05h-2.3zM639.4 360.5h1.6v1.05h-1.6zM642.9 360.5h1.4v1.05h-1.4zM633.9 361.5h2.6v1.05h-2.6zM639.5 361.5h1.4v1.05h-1.4zM643.1 361.5h1.8v1.05h-1.8zM644.9 361.5h2.1v1.05h-2.1zM632.2 362.5h1.6v1.05h-1.6zM639.3 362.5h2.0v1.05h-2.0zM641.4 362.5h2.9v1.05h-2.9zM643.7 363.5h1.8v1.05h-1.8zM645.5 363.5h2.5v1.05h-2.5zM633.9 364.5h1.3v1.05h-1.3zM632.4 365.5h2.6v1.05h-2.6zM637.3 365.5h2.5v1.05h-2.5zM642.1 365.5h3.1v1.05h-3.1zM633.6 366.5h2.3v1.05h-2.3zM635.9 366.5h1.5v1.05h-1.5zM639.3 366.5h1.8v1.05h-1.8zM636.3 367.5h1.9v1.05h-1.9zM643.3 367.5h2.9v1.05h-2.9zM634.3 368.5h1.6v1.05h-1.6zM671.6 361.0h2.3v1.05h-2.3zM664.7 362.0h1.8v1.05h-1.8zM660.8 364.0h3.0v1.05h-3.0zM671.2 364.0h2.3v1.05h-2.3zM660.7 365.0h2.4v1.05h-2.4zM674.1 365.0h1.6v1.05h-1.6zM662.9 368.0h1.4v1.05h-1.4zM664.2 368.0h2.5v1.05h-2.5zM669.7 368.0h2.7v1.05h-2.7zM661.3 371.0h2.1v1.05h-2.1zM671.8 371.0h1.8v1.05h-1.8zM525.1 397.5h0.5v1.05h-0.5zM520.6 398.5h1.9v1.05h-1.9zM524.7 422.2h1.0v1.05h-1.0zM523.8 428.1h2.3v1.05h-2.3zM575.2 405.5h2.4v1.05h-2.4zM576.4 408.5h1.8v1.05h-1.8zM597.3 400.5h3.2v1.05h-3.2zM599.9 403.5h2.4v1.05h-2.4zM599.2 404.5h1.3v1.05h-1.3zM597.3 405.5h2.4v1.05h-2.4zM600.6 423.5h1.2v1.05h-1.2zM599.7 426.3h1.3v1.05h-1.3zM625.4 402.5h2.3v1.05h-2.3zM627.7 402.5h1.4v1.05h-1.4zM628.0 430.4h2.4v1.05h-2.4zM653.2 401.5h2.6v1.05h-2.6zM655.8 401.5h2.0v1.05h-2.0zM656.0 403.5h2.7v1.05h-2.7zM658.7 403.5h0.9v1.05h-0.9zM655.9 405.5h2.9v1.05h-2.9zM653.2 406.5h2.9v1.05h-2.9zM658.5 406.5h2.6v1.05h-2.6zM656.1 432.5h2.1v1.05h-2.1zM653.7 435.8h2.5v1.05h-2.5z" fill="#9c9c9c"/>
<path d="M531.3 353.0h3.1v1.05h-3.1zM534.2 354.0h3.1v1.05h-3.1zM532.1 357.0h2.9v1.05h-2.9zM537.4 357.0h2.7v1.05h-2.7zM540.1 357.0h1.8v1.05h-1.8zM540.2 358.0h2.2v1.05h-2.2zM531.4 360.0h2.4v1.05h-2.4zM537.1 360.0h1.8v1.05h-1.8zM528.7 361.0h2.8v1.05h-2.8zM532.9 361.0h2.1v1.05h-2.1zM537.8 362.0h1.3v1.05h-1.3zM539.1 362.0h2.1v1.05h-2.1zM532.9 365.0h2.1v1.05h-2.1zM536.4 366.0h2.5v1.05h-2.5zM530.1 367.0h2.2v1.05h-2.2zM535.1 367.0h2.2v1.05h-2.2zM581.6 355.0h2.4v1.05h-2.4zM581.8 356.0h2.1v1.05h-2.1zM585.2 357.0h2.8v1.05h-2.8zM588.0 358.0h1.9v1.05h-1.9zM585.7 359.0h3.1v1.05h-3.1zM591.8 359.0h1.8v1.05h-1.8zM585.1 360.0h2.5v1.05h-2.5zM590.2 360.0h2.2v1.05h-2.2zM592.4 360.0h0.7v1.05h-0.7zM580.0 362.0h1.4v1.05h-1.4zM583.7 363.0h2.5v1.05h-2.5zM587.7 363.0h2.7v1.05h-2.7zM592.3 363.0h1.3v1.05h-1.3zM580.2 364.0h3.1v1.05h-3.1zM586.2 364.0h1.4v1.05h-1.4zM580.3 365.0h1.3v1.05h-1.3zM593.3 365.0h0.7v1.05h-0.7zM586.9 366.0h2.5v1.05h-2.5zM589.4 366.0h2.1v1.05h-2.1zM582.7 367.0h2.0v1.05h-2.0zM593.5 367.0h0.5v1.05h-0.5zM590.6 368.0h2.6v1.05h-2.6zM583.6 369.0h3.2v1.05h-3.2zM585.3 370.0h2.1v1.05h-2.1zM589.1 371.0h2.7v1.05h-2.7zM606.6 354.5h2.9v1.05h-2.9zM609.5 354.5h2.0v1.05h-2.0zM611.6 354.5h2.1v1.05h-2.1zM615.0 354.5h1.8v1.05h-1.8zM610.2 356.5h1.5v1.05h-1.5zM613.5 356.5h2.0v1.05h-2.0zM614.8 357.5h2.4v1.05h-2.4zM617.1 358.5h2.0v1.05h-2.0zM617.9 359.5h1.9v1.05h-1.9zM621.9 359.5h1.3v1.05h-1.3zM615.3 360.5h2.3v1.05h-2.3zM605.3 361.5h2.5v1.05h-2.5zM607.8 361.5h1.4v1.05h-1.4zM617.9 361.5h2.6v1.05h-2.6zM604.4 362.5h3.0v1.05h-3.0zM607.5 362.5h2.5v1.05h-2.5zM609.9 362.5h2.6v1.05h-2.6zM609.9 363.5h2.4v1.05h-2.4zM610.9 366.5h1.3v1.05h-1.3zM620.8 366.5h2.0v1.05h-2.0zM622.8 366.5h0.7v1.05h-0.7zM604.2 367.5h1.6v1.05h-1.6zM610.3 367.5h2.0v1.05h-2.0zM612.3 367.5h3.1v1.05h-3.1zM619.2 367.5h2.6v1.05h-2.6zM607.5 368.5h2.4v1.05h-2.4zM616.5 368.5h2.8v1.05h-2.8zM603.7 369.5h2.9v1.05h-2.9zM606.6 369.5h1.4v1.05h-1.4zM607.9 369.5h2.8v1.05h-2.8zM613.2 369.5h2.9v1.05h-2.9zM620.7 369.5h2.0v1.05h-2.0zM606.6 371.5h2.2v1.05h-2.2zM610.4 371.5h1.6v1.05h-1.6zM612.1 371.5h2.0v1.05h-2.0zM620.9 371.5h1.5v1.05h-1.5zM633.2 355.5h1.5v1.05h-1.5zM637.6 355.5h2.7v1.05h-2.7zM643.5 355.5h2.8v1.05h-2.8zM639.8 356.5h1.7v1.05h-1.7zM633.2 357.5h2.5v1.05h-2.5zM639.9 357.5h2.8v1.05h-2.8zM631.5 361.5h2.4v1.05h-2.4zM640.9 361.5h2.2v1.05h-2.2zM636.5 362.5h2.9v1.05h-2.9zM644.3 362.5h2.1v1.05h-2.1zM631.8 364.5h2.1v1.05h-2.1zM645.2 365.5h1.9v1.05h-1.9zM647.0 365.5h1.5v1.05h-1.5zM641.1 366.5h1.5v1.05h-1.5zM642.6 366.5h2.9v1.05h-2.9zM645.5 366.5h2.4v1.05h-2.4zM631.7 367.5h2.2v1.05h-2.2zM633.9 367.5h2.5v1.05h-2.5zM638.2 367.5h1.7v1.05h-1.7zM639.9 367.5h2.0v1.05h-2.0zM646.2 367.5h2.4v1.05h-2.4zM635.9 368.5h3.0v1.05h-3.0zM638.8 368.5h1.4v1.05h-1.4zM637.7 369.5h2.7v1.05h-2.7zM643.2 369.5h2.8v1.05h-2.8zM662.7 356.0h1.3v1.05h-1.3zM666.9 356.0h2.6v1.05h-2.6zM663.1 357.0h2.4v1.05h-2.4zM660.9 359.0h1.6v1.05h-1.6zM660.1 360.0h1.9v1.05h-1.9zM664.8 360.0h2.4v1.05h-2.4zM667.3 360.0h2.2v1.05h-2.2zM674.0 360.0h1.1v1.05h-1.1zM660.1 361.0h2.2v1.05h-2.2zM676.0 361.0h0.5v1.05h-0.5zM663.0 362.0h1.7v1.05h-1.7zM666.4 362.0h2.6v1.05h-2.6zM670.6 362.0h1.5v1.05h-1.5zM659.9 363.0h2.8v1.05h-2.8zM668.4 363.0h2.3v1.05h-2.3zM672.9 363.0h2.4v1.05h-2.4zM666.8 365.0h1.9v1.05h-1.9zM668.7 365.0h1.5v1.05h-1.5zM662.6 366.0h1.8v1.05h-1.8zM661.9 367.0h2.6v1.05h-2.6zM664.5 367.0h2.9v1.05h-2.9zM666.8 368.0h2.9v1.05h-2.9zM672.3 368.0h2.1v1.05h-2.1zM668.2 369.0h1.4v1.05h-1.4zM669.2 371.0h2.6v1.05h-2.6zM522.7 393.5h1.4v1.05h-1.4zM522.7 394.5h1.6v1.05h-1.6zM523.5 395.5h1.2v1.05h-1.2zM522.4 396.5h2.3v1.05h-2.3zM522.5 399.5h3.1v1.05h-3.1zM573.6 406.5h2.2v1.05h-2.2zM578.2 408.5h1.1v1.05h-1.1zM597.3 402.5h2.9v1.05h-2.9zM626.7 401.5h1.8v1.05h-1.8zM628.5 401.5h1.9v1.05h-1.9zM629.1 402.5h2.6v1.05h-2.6zM658.3 402.5h1.6v1.05h-1.6zM653.2 403.5h2.8v1.05h-2.8z" fill="#a8a8a8"/>
<path d="M529.3 354.0h3.1v1.05h-3.1zM520.6 402.5h1.9v1.05h-1.9zM522.5 402.5h3.1v1.05h-3.1zM526.5 413.5h0.6v1.05h-0.6zM520.6 414.5h1.6v1.05h-1.6zM522.2 414.5h1.9v1.05h-1.9zM576.5 410.5h2.8v1.05h-2.8zM572.0 411.5h1.9v1.05h-1.9zM573.4 412.5h1.9v1.05h-1.9zM577.3 431.5h2.7v1.05h-2.7zM576.1 433.5h1.6v1.05h-1.6zM574.6 436.5h1.9v1.05h-1.9zM601.5 405.5h1.5v1.05h-1.5zM597.3 408.5h2.2v1.05h-2.2zM597.3 417.5h2.5v1.05h-2.5zM630.0 404.5h1.9v1.05h-1.9zM628.4 405.5h1.4v1.05h-1.4zM629.8 405.5h2.0v1.05h-2.0zM629.6 406.5h1.9v1.05h-1.9zM631.4 406.5h1.8v1.05h-1.8zM628.2 411.5h2.1v1.05h-2.1zM629.6 422.5h1.9v1.05h-1.9zM625.6 430.4h2.4v1.05h-2.4zM653.2 410.5h3.1v1.05h-3.1zM658.4 410.5h2.5v1.05h-2.5zM656.3 414.5h1.7v1.05h-1.7zM658.0 414.5h2.5v1.05h-2.5zM653.2 418.5h3.0v1.05h-3.0zM656.2 418.5h1.4v1.05h-1.4zM659.8 418.5h2.0v1.05h-2.0zM656.6 420.5h2.6v1.05h-2.6zM653.2 423.5h2.0v1.05h-2.0zM653.2 424.5h3.2v1.05h-3.2zM656.4 424.5h2.8v1.05h-2.8zM658.2 432.5h1.5v1.05h-1.5zM653.8 439.0h2.8v1.05h-2.8zM653.8 441.1h1.9v1.05h-1.9zM655.7 441.1h2.5v1.05h-2.5z" fill="#8a8a8a"/>
<path d="M537.3 354.0h2.0v1.05h-2.0zM533.1 355.0h2.5v1.05h-2.5zM535.6 355.0h1.9v1.05h-1.9zM531.9 358.0h2.3v1.05h-2.3zM537.0 358.0h3.2v1.05h-3.2zM530.7 359.0h1.5v1.05h-1.5zM533.1 362.0h2.0v1.05h-2.0zM535.1 362.0h2.7v1.05h-2.7zM528.9 363.0h2.2v1.05h-2.2zM529.7 364.0h1.7v1.05h-1.7zM527.2 365.0h2.9v1.05h-2.9zM530.1 365.0h2.8v1.05h-2.8zM535.0 365.0h2.9v1.05h-2.9zM541.9 365.0h1.5v1.05h-1.5zM584.6 358.0h1.7v1.05h-1.7zM586.3 358.0h1.7v1.05h-1.7zM585.8 361.0h1.6v1.05h-1.6zM592.3 362.0h0.8v1.05h-0.8zM578.0 367.0h1.7v1.05h-1.7zM591.5 367.0h2.0v1.05h-2.0zM589.0 368.0h1.7v1.05h-1.7zM579.4 369.0h2.3v1.05h-2.3zM581.7 369.0h1.9v1.05h-1.9zM581.8 370.0h1.5v1.05h-1.5zM581.6 371.0h3.0v1.05h-3.0zM603.5 360.5h1.7v1.05h-1.7zM607.3 360.5h2.9v1.05h-2.9zM610.2 360.5h2.9v1.05h-2.9zM620.1 360.5h1.8v1.05h-1.8zM613.5 361.5h1.3v1.05h-1.3zM617.7 362.5h2.7v1.05h-2.7zM620.5 362.5h1.6v1.05h-1.6zM615.4 364.5h2.5v1.05h-2.5zM604.8 365.5h1.5v1.05h-1.5zM608.2 366.5h2.7v1.05h-2.7zM612.2 366.5h2.9v1.05h-2.9zM618.6 366.5h2.2v1.05h-2.2zM615.4 367.5h2.4v1.05h-2.4zM610.8 369.5h2.4v1.05h-2.4zM616.1 371.5h1.6v1.05h-1.6zM622.4 371.5h0.6v1.05h-0.6zM631.8 357.5h1.5v1.05h-1.5zM642.8 357.5h1.7v1.05h-1.7zM647.2 357.5h2.7v1.05h-2.7zM636.8 358.5h2.2v1.05h-2.2zM646.3 362.5h2.8v1.05h-2.8zM649.1 362.5h0.6v1.05h-0.6zM644.3 364.5h3.0v1.05h-3.0zM646.0 369.5h3.0v1.05h-3.0zM667.8 358.0h1.4v1.05h-1.4zM662.0 360.0h2.9v1.05h-2.9zM669.5 360.0h1.8v1.05h-1.8zM666.1 361.0h3.1v1.05h-3.1zM663.8 364.0h2.0v1.05h-2.0zM663.1 365.0h2.0v1.05h-2.0zM672.2 365.0h1.9v1.05h-1.9zM674.4 368.0h1.5v1.05h-1.5zM662.6 370.0h1.8v1.05h-1.8zM522.5 398.5h2.4v1.05h-2.4zM520.6 399.5h1.9v1.05h-1.9zM523.5 400.5h2.2v1.05h-2.2zM523.4 401.5h2.6v1.05h-2.6zM521.9 419.0h1.9v1.05h-1.9zM577.4 407.5h0.9v1.05h-0.9zM574.6 408.5h1.8v1.05h-1.8zM575.2 409.5h2.4v1.05h-2.4zM577.6 409.5h2.3v1.05h-2.3zM579.0 417.5h1.8v1.05h-1.8zM580.0 431.5h1.4v1.05h-1.4zM573.9 435.5h1.5v1.05h-1.5zM575.4 435.5h1.3v1.05h-1.3zM573.1 441.0h3.0v1.05h-3.0zM578.2 443.3h0.8v1.05h-0.8zM574.8 448.0h1.1v1.05h-1.1zM597.3 403.5h2.6v1.05h-2.6zM600.5 404.5h2.7v1.05h-2.7zM597.3 413.5h2.1v1.05h-2.1zM598.7 428.5h2.6v1.05h-2.6zM601.3 431.2h0.5v1.05h-0.5zM625.4 403.5h2.9v1.05h-2.9zM630.0 403.5h1.6v1.05h-1.6zM625.4 404.5h2.2v1.05h-2.2zM625.4 407.5h2.2v1.05h-2.2zM629.4 425.5h1.3v1.05h-1.3zM628.9 432.5h1.8v1.05h-1.8zM658.8 405.5h1.7v1.05h-1.7zM657.6 418.5h2.1v1.05h-2.1zM653.2 420.5h2.0v1.05h-2.0zM659.2 424.5h2.0v1.05h-2.0zM659.7 426.5h1.0v1.05h-1.0zM653.4 432.5h2.7v1.05h-2.7zM656.3 435.8h0.8v1.05h-0.8zM656.6 439.0h3.1v1.05h-3.1z" fill="#969696"/>
<path d="M541.5 354.0h0.7v1.05h-0.7zM537.5 355.0h2.8v1.05h-2.8zM542.0 355.0h1.3v1.05h-1.3zM534.5 364.0h2.2v1.05h-2.2zM586.0 368.0h3.0v1.05h-3.0zM593.3 368.0h0.7v1.05h-0.7zM583.3 370.0h2.0v1.05h-2.0zM587.0 371.0h2.1v1.05h-2.1zM612.3 359.5h3.0v1.05h-3.0zM613.1 360.5h2.3v1.05h-2.3zM613.3 364.5h2.1v1.05h-2.1zM617.9 364.5h1.6v1.05h-1.6zM618.7 369.5h2.0v1.05h-2.0zM633.8 362.5h2.7v1.05h-2.7zM648.0 363.5h0.9v1.05h-0.9zM649.0 369.5h1.6v1.05h-1.6zM671.3 360.0h2.7v1.05h-2.7zM662.3 361.0h1.8v1.05h-1.8zM664.1 361.0h2.0v1.05h-2.0zM669.2 361.0h2.4v1.05h-2.4zM673.9 361.0h2.1v1.05h-2.1zM665.8 364.0h2.5v1.05h-2.5zM668.2 364.0h3.0v1.05h-3.0zM663.4 371.0h3.1v1.05h-3.1zM666.4 371.0h2.7v1.05h-2.7zM524.8 398.5h0.6v1.05h-0.6zM520.6 403.5h2.0v1.05h-2.0zM524.2 414.5h2.6v1.05h-2.6zM521.7 422.2h3.0v1.05h-3.0zM573.3 407.5h1.9v1.05h-1.9zM572.0 408.5h2.6v1.05h-2.6zM574.1 417.5h2.4v1.05h-2.4zM573.8 433.5h2.2v1.05h-2.2zM580.1 433.5h1.0v1.05h-1.0zM576.7 435.5h1.6v1.05h-1.6zM572.7 443.3h1.4v1.05h-1.4zM574.1 443.3h2.1v1.05h-2.1zM572.7 445.4h2.3v1.05h-2.3zM600.2 402.5h2.3v1.05h-2.3zM599.7 405.5h1.7v1.05h-1.7zM601.5 407.5h1.3v1.05h-1.3zM600.2 411.5h2.0v1.05h-2.0zM602.0 413.5h1.8v1.05h-1.8zM597.8 423.5h2.9v1.05h-2.9zM597.6 426.3h2.1v1.05h-2.1zM598.7 431.2h2.6v1.05h-2.6zM628.3 403.5h1.7v1.05h-1.7zM627.6 404.5h2.4v1.05h-2.4zM625.4 405.5h3.0v1.05h-3.0zM627.8 406.5h1.8v1.05h-1.8zM627.6 407.5h2.1v1.05h-2.1zM625.4 411.5h2.8v1.05h-2.8zM630.3 411.5h1.8v1.05h-1.8zM631.3 413.5h0.7v1.05h-0.7zM628.5 417.5h2.2v1.05h-2.2zM628.0 422.5h1.6v1.05h-1.6zM625.4 425.5h1.8v1.05h-1.8zM627.2 425.5h2.3v1.05h-2.3zM630.7 425.5h1.8v1.05h-1.8zM657.6 404.5h2.0v1.05h-2.0zM656.1 406.5h2.4v1.05h-2.4zM655.2 420.5h1.4v1.05h-1.4zM659.2 420.5h1.6v1.05h-1.6zM661.2 424.5h0.8v1.05h-0.8z" fill="#909090"/>
<path d="M527.1 356.0h1.4v1.05h-1.4zM541.1 356.0h1.5v1.05h-1.5zM541.1 361.0h1.9v1.05h-1.9zM538.9 366.0h2.1v1.05h-2.1zM541.0 366.0h2.1v1.05h-2.1zM528.8 367.0h1.3v1.05h-1.3zM580.3 355.0h1.3v1.05h-1.3zM586.5 355.0h2.3v1.05h-2.3zM583.9 356.0h1.4v1.05h-1.4zM589.7 356.0h1.7v1.05h-1.7zM583.9 359.0h1.8v1.05h-1.8zM584.3 361.0h1.4v1.05h-1.4zM587.4 361.0h1.5v1.05h-1.5zM587.7 362.0h3.0v1.05h-3.0zM593.6 363.0h0.5v1.05h-0.5zM581.3 366.0h1.5v1.05h-1.5zM582.8 366.0h1.5v1.05h-1.5zM584.3 366.0h2.6v1.05h-2.6zM616.8 354.5h1.9v1.05h-1.9zM618.7 354.5h2.1v1.05h-2.1zM606.9 355.5h3.1v1.05h-3.1zM610.0 355.5h1.4v1.05h-1.4zM611.4 355.5h3.0v1.05h-3.0zM614.4 355.5h1.6v1.05h-1.6zM608.7 357.5h1.7v1.05h-1.7zM610.4 357.5h2.3v1.05h-2.3zM622.2 358.5h1.5v1.05h-1.5zM622.1 362.5h1.1v1.05h-1.1zM618.6 363.5h1.4v1.05h-1.4zM621.3 363.5h2.5v1.05h-2.5zM603.3 365.5h1.5v1.05h-1.5zM613.1 365.5h2.7v1.05h-2.7zM604.3 366.5h2.2v1.05h-2.2zM606.4 366.5h1.8v1.05h-1.8zM604.4 368.5h3.2v1.05h-3.2zM612.1 368.5h2.0v1.05h-2.0zM603.5 370.5h1.7v1.05h-1.7zM608.2 370.5h2.5v1.05h-2.5zM612.9 370.5h1.8v1.05h-1.8zM617.5 370.5h1.5v1.05h-1.5zM603.2 376.5h2.9v1.05h-2.9zM643.7 354.5h1.4v1.05h-1.4zM646.8 356.5h1.6v1.05h-1.6zM636.5 359.5h1.5v1.05h-1.5zM640.8 359.5h1.9v1.05h-1.9zM642.8 359.5h2.0v1.05h-2.0zM641.1 360.5h1.8v1.05h-1.8zM647.0 361.5h2.0v1.05h-2.0zM641.4 364.5h2.8v1.05h-2.8zM635.0 365.5h2.3v1.05h-2.3zM648.6 367.5h0.9v1.05h-0.9zM632.4 368.5h1.9v1.05h-1.9zM640.2 368.5h2.1v1.05h-2.1zM643.9 368.5h3.1v1.05h-3.1zM660.8 356.0h1.9v1.05h-1.9zM664.0 356.0h2.9v1.05h-2.9zM671.7 356.0h0.9v1.05h-0.9zM663.0 358.0h2.3v1.05h-2.3zM665.3 358.0h2.5v1.05h-2.5zM672.4 359.0h2.1v1.05h-2.1zM669.0 362.0h1.6v1.05h-1.6zM664.5 366.0h3.0v1.05h-3.0zM667.5 366.0h3.0v1.05h-3.0zM659.8 367.0h2.1v1.05h-2.1zM671.5 367.0h2.7v1.05h-2.7zM665.3 369.0h2.9v1.05h-2.9zM669.1 377.0h1.6v1.05h-1.6zM523.0 392.5h1.1v1.05h-1.1zM520.6 395.5h2.9v1.05h-2.9zM520.6 396.5h1.8v1.05h-1.8zM572.0 403.5h2.8v1.05h-2.8zM574.2 404.5h2.9v1.05h-2.9zM573.4 405.5h1.7v1.05h-1.7zM575.2 407.5h2.2v1.05h-2.2zM625.4 397.5h1.5v1.05h-1.5zM629.5 398.5h0.4v1.05h-0.4zM625.4 399.5h1.4v1.05h-1.4zM626.8 399.5h2.1v1.05h-2.1zM655.1 402.5h3.2v1.05h-3.2z" fill="#b4b4b4"/>
<path d="M528.5 356.0h1.9v1.05h-1.9zM530.4 356.0h3.0v1.05h-3.0zM541.8 357.0h1.1v1.05h-1.1zM531.9 368.0h2.3v1.05h-2.3zM529.2 372.0h1.4v1.05h-1.4zM536.4 374.0h0.7v1.05h-0.7zM535.2 375.0h1.9v1.05h-1.9zM533.0 376.0h2.5v1.05h-2.5zM526.8 377.0h1.3v1.05h-1.3zM528.1 377.0h1.5v1.05h-1.5zM531.3 377.0h2.4v1.05h-2.4zM589.9 357.0h1.4v1.05h-1.4zM593.6 359.0h1.0v1.05h-1.0zM581.6 365.0h2.7v1.05h-2.7zM591.5 365.0h1.8v1.05h-1.8zM589.7 372.0h0.4v1.05h-0.4zM577.6 377.0h1.3v1.05h-1.3zM581.0 377.0h2.0v1.05h-2.0zM578.0 378.0h2.0v1.05h-2.0zM582.5 379.0h2.3v1.05h-2.3zM606.4 356.5h1.3v1.05h-1.3zM618.5 356.5h1.6v1.05h-1.6zM616.0 363.5h2.5v1.05h-2.5zM603.9 372.5h2.4v1.05h-2.4zM612.9 372.5h2.4v1.05h-2.4zM606.4 375.5h2.2v1.05h-2.2zM610.3 377.5h1.8v1.05h-1.8zM612.1 377.5h2.2v1.05h-2.2zM614.3 377.5h1.8v1.05h-1.8zM616.0 377.5h2.3v1.05h-2.3zM608.3 379.5h2.5v1.05h-2.5zM633.5 372.5h1.7v1.05h-1.7zM639.2 372.5h1.2v1.05h-1.2zM631.2 379.5h1.7v1.05h-1.7zM662.5 359.0h1.5v1.05h-1.5zM668.6 359.0h1.4v1.05h-1.4zM670.0 359.0h2.4v1.05h-2.4zM664.7 363.0h2.0v1.05h-2.0zM666.7 363.0h1.7v1.05h-1.7zM671.1 369.0h1.7v1.05h-1.7zM659.9 372.0h2.3v1.05h-2.3zM663.7 372.0h2.1v1.05h-2.1zM665.8 372.0h1.9v1.05h-1.9zM663.3 373.0h1.8v1.05h-1.8zM662.8 375.0h1.5v1.05h-1.5zM666.3 375.0h1.4v1.05h-1.4zM666.1 376.0h2.0v1.05h-2.0zM668.3 378.0h1.8v1.05h-1.8zM660.9 380.0h1.9v1.05h-1.9zM576.5 403.5h0.4v1.05h-0.4zM577.1 404.5h0.3v1.05h-0.3zM597.3 398.5h2.1v1.05h-2.1z" fill="#c0c0c0"/>
<path d="M526.7 368.0h2.5v1.05h-2.5zM531.0 370.0h3.0v1.05h-3.0zM526.6 371.0h2.7v1.05h-2.7zM529.3 371.0h3.0v1.05h-3.0zM532.3 371.0h2.8v1.05h-2.8zM537.4 371.0h0.9v1.05h-0.9zM526.9 372.0h2.3v1.05h-2.3zM527.3 373.0h2.5v1.05h-2.5zM536.7 373.0h2.3v1.05h-2.3zM526.3 374.0h2.8v1.05h-2.8zM534.3 374.0h2.1v1.05h-2.1zM537.1 375.0h1.1v1.05h-1.1zM531.4 376.0h1.6v1.05h-1.6zM533.7 377.0h1.0v1.05h-1.0zM527.8 378.0h1.8v1.05h-1.8zM581.1 372.0h2.5v1.05h-2.5zM585.5 372.0h1.5v1.05h-1.5zM577.8 373.0h2.1v1.05h-2.1zM579.9 373.0h2.5v1.05h-2.5zM578.0 375.0h1.5v1.05h-1.5zM584.1 375.0h2.9v1.05h-2.9zM585.1 376.0h1.1v1.05h-1.1zM584.7 377.0h3.1v1.05h-3.1zM584.5 378.0h2.2v1.05h-2.2zM580.3 379.0h2.2v1.05h-2.2zM584.8 379.0h2.9v1.05h-2.9zM610.0 372.5h2.9v1.05h-2.9zM615.3 372.5h2.8v1.05h-2.8zM609.1 373.5h1.8v1.05h-1.8zM610.9 373.5h1.7v1.05h-1.7zM612.6 373.5h0.6v1.05h-0.6zM607.7 374.5h3.0v1.05h-3.0zM603.8 375.5h2.6v1.05h-2.6zM613.4 375.5h1.8v1.05h-1.8zM603.8 377.5h2.6v1.05h-2.6zM608.8 377.5h1.5v1.05h-1.5zM603.5 378.5h2.7v1.05h-2.7zM603.3 379.5h2.2v1.05h-2.2zM605.4 379.5h2.9v1.05h-2.9zM616.7 379.5h0.3v1.05h-0.3zM603.3 380.5h1.6v1.05h-1.6zM604.9 380.5h2.9v1.05h-2.9zM633.3 371.5h2.7v1.05h-2.7zM638.0 371.5h2.0v1.05h-2.0zM631.3 372.5h2.2v1.05h-2.2zM635.2 372.5h1.6v1.05h-1.6zM640.1 373.5h1.3v1.05h-1.3zM639.8 376.5h2.2v1.05h-2.2zM639.3 377.5h2.3v1.05h-2.3zM637.4 378.5h1.6v1.05h-1.6zM662.3 372.0h1.4v1.05h-1.4zM665.0 373.0h2.3v1.05h-2.3zM667.3 373.0h2.4v1.05h-2.4zM669.2 374.0h0.6v1.05h-0.6zM664.2 376.0h1.9v1.05h-1.9zM662.3 377.0h3.2v1.05h-3.2zM665.4 377.0h1.5v1.05h-1.5zM665.8 378.0h2.5v1.05h-2.5zM660.2 379.0h2.9v1.05h-2.9zM662.8 380.0h2.9v1.05h-2.9zM671.0 381.0h0.9v1.05h-0.9zM520.6 393.5h2.1v1.05h-2.1zM626.9 397.5h1.4v1.05h-1.4zM653.2 398.5h2.5v1.05h-2.5z" fill="#c6c6c6"/>
<path d="M529.2 368.0h2.7v1.05h-2.7zM530.5 372.0h1.6v1.05h-1.6zM532.1 372.0h2.6v1.05h-2.6zM534.7 372.0h1.6v1.05h-1.6zM532.8 373.0h2.4v1.05h-2.4zM532.3 374.0h2.0v1.05h-2.0zM532.8 375.0h2.4v1.05h-2.4zM529.6 378.0h1.5v1.05h-1.5zM531.1 378.0h3.0v1.05h-3.0zM582.4 373.0h2.6v1.05h-2.6zM583.4 374.0h1.4v1.05h-1.4zM581.6 376.0h1.5v1.05h-1.5zM586.7 378.0h1.7v1.05h-1.7zM577.4 379.0h2.9v1.05h-2.9zM608.6 372.5h1.4v1.05h-1.4zM608.5 375.5h3.1v1.05h-3.1zM615.2 375.5h3.0v1.05h-3.0zM606.4 377.5h2.4v1.05h-2.4zM615.3 378.5h2.6v1.05h-2.6zM609.4 380.5h1.9v1.05h-1.9zM612.8 380.5h1.4v1.05h-1.4zM640.1 371.5h0.5v1.05h-0.5zM631.9 374.5h3.0v1.05h-3.0zM632.1 375.5h2.0v1.05h-2.0zM640.1 375.5h1.4v1.05h-1.4zM632.1 376.5h2.4v1.05h-2.4zM641.6 377.5h1.8v1.05h-1.8zM635.4 379.5h2.0v1.05h-2.0zM659.9 374.0h1.9v1.05h-1.9zM663.3 378.0h2.5v1.05h-2.5zM664.7 379.0h2.9v1.05h-2.9zM667.6 379.0h1.6v1.05h-1.6zM662.9 381.0h2.9v1.05h-2.9z" fill="#d8d8d8"/>
<path d="M534.2 368.0h0.9v1.05h-0.9zM536.9 370.0h1.1v1.05h-1.1zM536.3 372.0h1.1v1.05h-1.1zM529.8 373.0h3.0v1.05h-3.0zM527.4 375.0h2.9v1.05h-2.9zM526.7 376.0h2.5v1.05h-2.5zM529.6 377.0h1.7v1.05h-1.7zM534.0 378.0h0.6v1.05h-0.6zM578.1 372.0h2.9v1.05h-2.9zM583.6 372.0h1.9v1.05h-1.9zM587.0 372.0h2.8v1.05h-2.8zM585.0 373.0h1.6v1.05h-1.6zM579.5 375.0h2.3v1.05h-2.3zM581.8 375.0h2.3v1.05h-2.3zM577.8 376.0h1.7v1.05h-1.7zM578.9 377.0h2.1v1.05h-2.1zM583.0 377.0h1.7v1.05h-1.7zM587.8 377.0h1.5v1.05h-1.5zM581.6 378.0h2.8v1.05h-2.8zM588.4 378.0h2.0v1.05h-2.0zM610.7 374.5h2.4v1.05h-2.4zM606.0 376.5h2.8v1.05h-2.8zM612.5 379.5h2.7v1.05h-2.7zM607.8 380.5h1.6v1.05h-1.6zM642.3 370.5h1.4v1.05h-1.4zM631.1 371.5h2.2v1.05h-2.2zM636.0 371.5h2.0v1.05h-2.0zM634.8 373.5h3.1v1.05h-3.1zM639.5 374.5h1.8v1.05h-1.8zM634.5 376.5h3.1v1.05h-3.1zM637.7 376.5h2.1v1.05h-2.1zM634.5 377.5h1.6v1.05h-1.6zM634.4 378.5h3.0v1.05h-3.0zM639.0 378.5h2.1v1.05h-2.1zM632.9 379.5h2.5v1.05h-2.5zM660.6 373.0h2.6v1.05h-2.6zM661.8 374.0h1.6v1.05h-1.6zM660.4 376.0h1.7v1.05h-1.7zM660.8 377.0h1.5v1.05h-1.5zM665.7 380.0h2.0v1.05h-2.0zM668.8 381.0h2.2v1.05h-2.2zM574.8 403.5h1.6v1.05h-1.6z" fill="#cccccc"/>
<path d="M529.9 369.0h2.9v1.05h-2.9zM532.8 369.0h2.5v1.05h-2.5zM529.1 374.0h3.2v1.05h-3.2zM578.4 374.0h2.8v1.05h-2.8zM586.4 374.0h0.5v1.05h-0.5zM586.9 375.0h1.1v1.05h-1.1zM579.5 376.0h2.0v1.05h-2.0zM580.1 378.0h1.5v1.05h-1.5zM614.7 374.5h1.8v1.05h-1.8zM608.8 376.5h2.5v1.05h-2.5zM612.8 376.5h2.7v1.05h-2.7zM612.2 378.5h1.6v1.05h-1.6zM615.1 379.5h1.6v1.05h-1.6zM632.1 370.5h2.8v1.05h-2.8zM637.1 370.5h2.4v1.05h-2.4zM641.4 373.5h2.4v1.05h-2.4zM637.2 374.5h2.3v1.05h-2.3zM636.0 375.5h2.6v1.05h-2.6zM638.6 375.5h1.5v1.05h-1.5zM639.9 379.5h1.8v1.05h-1.8zM663.4 374.0h1.9v1.05h-1.9zM665.3 374.0h2.3v1.05h-2.3zM667.6 374.0h1.6v1.05h-1.6zM660.0 375.0h2.8v1.05h-2.8zM669.5 376.0h1.8v1.05h-1.8zM660.2 378.0h3.0v1.05h-3.0zM670.1 378.0h1.4v1.05h-1.4zM663.1 379.0h1.7v1.05h-1.7zM669.2 379.0h2.3v1.05h-2.3zM667.7 380.0h2.0v1.05h-2.0zM660.5 381.0h2.4v1.05h-2.4zM599.4 398.5h1.4v1.05h-1.4z" fill="#d2d2d2"/>
<path d="M527.1 370.0h1.7v1.05h-1.7zM528.8 370.0h2.2v1.05h-2.2zM534.1 370.0h2.8v1.05h-2.8zM535.2 371.0h2.3v1.05h-2.3zM535.2 373.0h1.5v1.05h-1.5zM529.1 376.0h2.3v1.05h-2.3zM526.3 378.0h1.6v1.05h-1.6zM584.8 374.0h1.6v1.05h-1.6zM603.2 373.5h3.1v1.05h-3.1zM603.2 374.5h2.4v1.05h-2.4zM605.5 374.5h2.2v1.05h-2.2zM613.2 374.5h1.5v1.05h-1.5zM616.5 374.5h0.4v1.05h-0.4zM606.2 378.5h1.4v1.05h-1.4zM607.6 378.5h1.7v1.05h-1.7zM609.3 378.5h2.9v1.05h-2.9zM613.8 378.5h1.5v1.05h-1.5zM611.3 380.5h1.5v1.05h-1.5zM634.9 370.5h2.2v1.05h-2.2zM639.5 370.5h2.8v1.05h-2.8zM631.9 373.5h2.9v1.05h-2.9zM638.0 373.5h2.1v1.05h-2.1zM634.9 374.5h2.3v1.05h-2.3zM632.2 377.5h2.3v1.05h-2.3zM636.1 377.5h3.2v1.05h-3.2zM631.5 378.5h2.9v1.05h-2.9zM665.8 381.0h3.0v1.05h-3.0z" fill="#dedede"/>
<path d="M530.2 375.0h2.5v1.05h-2.5zM581.2 374.0h2.2v1.05h-2.2zM606.3 373.5h2.9v1.05h-2.9zM634.0 375.5h2.0v1.05h-2.0z" fill="#e4e4e4"/>
<path d="M520.6 401.5h2.8v1.05h-2.8zM525.6 402.5h1.4v1.05h-1.4zM523.9 403.5h2.4v1.05h-2.4zM520.6 406.5h1.5v1.05h-1.5zM525.0 417.5h1.5v1.05h-1.5zM523.7 419.0h0.8v1.05h-0.8zM521.8 428.1h2.0v1.05h-2.0zM572.0 409.5h3.2v1.05h-3.2zM572.0 410.5h2.5v1.05h-2.5zM579.3 410.5h0.8v1.05h-0.8zM572.0 419.5h3.0v1.05h-3.0zM578.0 419.5h1.9v1.05h-1.9zM572.0 428.5h2.7v1.05h-2.7zM573.7 431.5h1.8v1.05h-1.8zM573.7 432.5h1.6v1.05h-1.6zM577.7 433.5h2.4v1.05h-2.4zM576.5 436.5h2.7v1.05h-2.7zM572.0 437.5h1.7v1.05h-1.7zM579.3 439.5h1.7v1.05h-1.7zM576.0 441.0h1.8v1.05h-1.8zM577.9 441.0h1.4v1.05h-1.4zM600.0 406.5h2.3v1.05h-2.3zM597.3 407.5h2.5v1.05h-2.5zM599.8 407.5h1.7v1.05h-1.7zM599.5 408.5h2.3v1.05h-2.3zM600.4 412.5h2.8v1.05h-2.8zM599.4 413.5h2.6v1.05h-2.6zM597.3 421.5h2.0v1.05h-2.0zM601.2 428.5h0.4v1.05h-0.4zM629.7 407.5h1.4v1.05h-1.4zM625.4 416.5h3.1v1.05h-3.1zM630.3 416.5h2.5v1.05h-2.5zM630.7 417.5h2.4v1.05h-2.4zM625.4 420.5h1.6v1.05h-1.6zM631.3 420.5h1.9v1.05h-1.9zM629.2 421.5h1.5v1.05h-1.5zM630.7 421.5h1.6v1.05h-1.6zM625.4 424.5h1.6v1.05h-1.6zM625.8 427.5h3.0v1.05h-3.0zM626.3 432.5h2.7v1.05h-2.7zM626.3 435.0h3.2v1.05h-3.2zM653.2 405.5h2.7v1.05h-2.7zM660.9 410.5h1.2v1.05h-1.2zM653.2 415.5h2.0v1.05h-2.0zM655.2 415.5h3.1v1.05h-3.1zM659.4 417.5h1.4v1.05h-1.4zM660.5 423.5h1.8v1.05h-1.8zM657.8 426.5h1.9v1.05h-1.9zM656.3 428.5h1.7v1.05h-1.7zM656.1 431.5h2.0v1.05h-2.0z" fill="#848484"/>
<path d="M522.6 403.5h1.4v1.05h-1.4zM522.7 408.5h2.1v1.05h-2.1zM523.3 409.5h2.7v1.05h-2.7zM522.4 412.5h1.3v1.05h-1.3zM520.6 413.5h3.0v1.05h-3.0zM523.6 413.5h3.0v1.05h-3.0zM526.8 414.5h0.3v1.05h-0.3zM520.6 415.5h2.7v1.05h-2.7zM520.6 417.5h2.9v1.05h-2.9zM526.5 417.5h0.6v1.05h-0.6zM521.4 425.4h2.8v1.05h-2.8zM573.9 411.5h2.7v1.05h-2.7zM579.1 411.5h1.9v1.05h-1.9zM573.5 415.5h2.4v1.05h-2.4zM577.8 415.5h1.5v1.05h-1.5zM572.0 417.5h2.1v1.05h-2.1zM576.5 417.5h2.5v1.05h-2.5zM574.4 418.5h2.8v1.05h-2.8zM576.0 420.5h1.4v1.05h-1.4zM574.2 425.5h2.3v1.05h-2.3zM576.9 430.5h2.1v1.05h-2.1zM572.0 431.5h1.7v1.05h-1.7zM575.5 431.5h1.7v1.05h-1.7zM578.3 432.5h0.9v1.05h-0.9zM572.0 433.5h1.8v1.05h-1.8zM572.0 434.5h1.7v1.05h-1.7zM578.6 434.5h1.6v1.05h-1.6zM578.3 435.5h1.3v1.05h-1.3zM572.0 438.5h1.3v1.05h-1.3zM576.2 443.3h2.0v1.05h-2.0zM597.3 406.5h2.7v1.05h-2.7zM598.9 412.5h1.5v1.05h-1.5zM601.5 417.5h2.5v1.05h-2.5zM601.2 421.5h1.9v1.05h-1.9zM625.4 406.5h2.4v1.05h-2.4zM627.4 414.5h2.0v1.05h-2.0zM628.5 416.5h1.9v1.05h-1.9zM625.4 418.5h1.8v1.05h-1.8zM633.2 418.5h1.0v1.05h-1.0zM625.4 421.5h2.4v1.05h-2.4zM627.8 421.5h1.4v1.05h-1.4zM631.5 422.5h1.9v1.05h-1.9zM627.0 424.5h2.3v1.05h-2.3zM629.3 424.5h1.7v1.05h-1.7zM656.2 407.5h3.1v1.05h-3.1zM653.2 408.5h3.1v1.05h-3.1zM656.3 408.5h1.8v1.05h-1.8zM653.2 409.5h2.2v1.05h-2.2zM657.6 412.5h2.0v1.05h-2.0zM653.2 414.5h3.1v1.05h-3.1zM658.4 415.5h2.6v1.05h-2.6zM658.4 416.5h1.6v1.05h-1.6zM653.2 422.5h3.1v1.05h-3.1zM655.2 423.5h2.5v1.05h-2.5zM657.8 423.5h2.7v1.05h-2.7zM655.0 425.5h2.4v1.05h-2.4zM658.0 428.5h2.2v1.05h-2.2zM660.2 428.5h1.6v1.05h-1.6z" fill="#7e7e7e"/>
<path d="M520.6 404.5h1.5v1.05h-1.5zM522.1 404.5h2.0v1.05h-2.0zM524.5 405.5h1.4v1.05h-1.4zM526.2 406.5h0.5v1.05h-0.5zM520.6 407.5h1.7v1.05h-1.7zM522.3 407.5h1.5v1.05h-1.5zM524.8 408.5h1.0v1.05h-1.0zM525.4 412.5h1.5v1.05h-1.5zM520.6 416.5h2.3v1.05h-2.3zM522.9 416.5h1.5v1.05h-1.5zM574.5 410.5h2.0v1.05h-2.0zM576.6 411.5h2.5v1.05h-2.5zM572.0 413.5h1.3v1.05h-1.3zM575.9 415.5h2.0v1.05h-2.0zM579.2 418.5h1.1v1.05h-1.1zM579.9 419.5h0.3v1.05h-0.3zM572.0 420.5h2.6v1.05h-2.6zM574.6 420.5h1.4v1.05h-1.4zM577.4 420.5h1.9v1.05h-1.9zM572.0 422.5h2.5v1.05h-2.5zM577.2 423.5h2.4v1.05h-2.4zM580.1 424.5h0.3v1.05h-0.3zM572.0 426.5h2.8v1.05h-2.8zM574.8 426.5h3.2v1.05h-3.2zM579.1 428.5h1.3v1.05h-1.3zM577.3 429.5h1.9v1.05h-1.9zM573.4 430.5h2.1v1.05h-2.1zM572.0 432.5h1.7v1.05h-1.7zM573.7 434.5h2.0v1.05h-2.0zM572.0 435.5h1.9v1.05h-1.9zM573.3 438.5h1.9v1.05h-1.9zM574.3 439.5h2.0v1.05h-2.0zM602.3 406.5h0.9v1.05h-0.9zM601.8 408.5h1.3v1.05h-1.3zM597.3 410.5h1.6v1.05h-1.6zM601.1 410.5h2.4v1.05h-2.4zM597.3 411.5h2.9v1.05h-2.9zM602.3 411.5h1.0v1.05h-1.0zM597.3 412.5h1.6v1.05h-1.6zM599.8 417.5h1.7v1.05h-1.7zM600.4 420.5h3.1v1.05h-3.1zM599.6 422.5h3.0v1.05h-3.0zM631.1 407.5h1.9v1.05h-1.9zM632.1 411.5h2.0v1.05h-2.0zM625.4 413.5h3.0v1.05h-3.0zM629.5 414.5h1.7v1.05h-1.7zM631.2 414.5h1.5v1.05h-1.5zM630.9 415.5h2.4v1.05h-2.4zM625.4 417.5h3.1v1.05h-3.1zM633.1 417.5h0.7v1.05h-0.7zM625.4 419.5h2.0v1.05h-2.0zM632.2 421.5h1.8v1.05h-1.8zM625.4 422.5h2.6v1.05h-2.6zM630.0 423.5h2.2v1.05h-2.2zM632.2 423.5h0.8v1.05h-0.8zM631.0 424.5h1.1v1.05h-1.1zM625.4 426.5h2.4v1.05h-2.4zM627.8 426.5h1.7v1.05h-1.7zM653.2 407.5h3.0v1.05h-3.0zM658.0 409.5h2.0v1.05h-2.0zM653.2 411.5h2.9v1.05h-2.9zM655.8 413.5h2.6v1.05h-2.6zM659.9 413.5h1.4v1.05h-1.4zM660.0 416.5h1.4v1.05h-1.4zM655.0 417.5h1.5v1.05h-1.5zM656.5 417.5h2.9v1.05h-2.9zM655.7 419.5h2.3v1.05h-2.3zM656.3 422.5h1.6v1.05h-1.6zM653.2 426.5h2.7v1.05h-2.7zM655.9 426.5h1.9v1.05h-1.9zM657.8 429.5h2.4v1.05h-2.4zM653.2 430.5h2.0v1.05h-2.0zM653.2 431.5h2.9v1.05h-2.9z" fill="#787878"/>
<path d="M524.1 404.5h2.1v1.05h-2.1zM520.6 405.5h2.4v1.05h-2.4zM523.9 406.5h2.3v1.05h-2.3zM520.6 410.5h1.5v1.05h-1.5zM520.6 412.5h1.8v1.05h-1.8zM523.7 412.5h1.7v1.05h-1.7zM572.0 412.5h1.4v1.05h-1.4zM575.3 412.5h2.2v1.05h-2.2zM577.5 412.5h1.8v1.05h-1.8zM572.0 414.5h2.7v1.05h-2.7zM577.8 414.5h3.1v1.05h-3.1zM575.0 419.5h3.1v1.05h-3.1zM579.3 420.5h1.6v1.05h-1.6zM574.8 423.5h2.3v1.05h-2.3zM574.7 424.5h2.7v1.05h-2.7zM578.0 425.5h1.3v1.05h-1.3zM578.0 426.5h2.7v1.05h-2.7zM573.4 427.5h1.4v1.05h-1.4zM579.2 429.5h1.0v1.05h-1.0zM572.0 430.5h1.4v1.05h-1.4zM575.5 430.5h1.4v1.05h-1.4zM579.0 430.5h2.3v1.05h-2.3zM576.4 437.5h2.3v1.05h-2.3zM578.3 438.5h1.6v1.05h-1.6zM580.0 438.5h1.4v1.05h-1.4zM576.2 439.5h3.0v1.05h-3.0zM597.3 409.5h3.1v1.05h-3.1zM600.4 409.5h2.3v1.05h-2.3zM598.9 410.5h2.2v1.05h-2.2zM603.2 412.5h1.0v1.05h-1.0zM600.0 414.5h2.6v1.05h-2.6zM602.6 414.5h1.7v1.05h-1.7zM597.3 419.5h2.1v1.05h-2.1zM599.3 421.5h1.9v1.05h-1.9zM597.3 422.5h2.3v1.05h-2.3zM602.6 422.5h1.3v1.05h-1.3zM630.8 408.5h3.1v1.05h-3.1zM628.2 409.5h2.6v1.05h-2.6zM626.8 412.5h1.4v1.05h-1.4zM628.4 413.5h2.9v1.05h-2.9zM632.7 414.5h1.3v1.05h-1.3zM631.8 419.5h0.4v1.05h-0.4zM627.0 420.5h1.9v1.05h-1.9zM628.9 420.5h2.4v1.05h-2.4zM659.3 407.5h1.6v1.05h-1.6zM655.4 409.5h2.6v1.05h-2.6zM660.1 409.5h1.8v1.05h-1.8zM656.3 410.5h2.1v1.05h-2.1zM653.2 412.5h2.4v1.05h-2.4zM658.4 413.5h1.5v1.05h-1.5zM653.2 417.5h1.8v1.05h-1.8zM653.2 419.5h2.5v1.05h-2.5zM658.0 419.5h2.6v1.05h-2.6zM653.2 421.5h3.0v1.05h-3.0zM660.2 425.5h1.6v1.05h-1.6zM655.1 429.5h2.7v1.05h-2.7zM659.8 431.5h1.1v1.05h-1.1z" fill="#727272"/>
<path d="M523.0 405.5h1.5v1.05h-1.5zM522.1 406.5h1.8v1.05h-1.8zM523.8 407.5h2.4v1.05h-2.4zM524.1 410.5h1.8v1.05h-1.8zM527.0 416.5h0.5v1.05h-0.5zM523.5 417.5h1.5v1.05h-1.5zM579.3 412.5h1.0v1.05h-1.0zM574.7 414.5h3.1v1.05h-3.1zM572.0 416.5h1.4v1.05h-1.4zM574.2 421.5h3.1v1.05h-3.1zM572.0 423.5h2.8v1.05h-2.8zM579.5 423.5h1.4v1.05h-1.4zM577.1 427.5h3.1v1.05h-3.1zM576.3 428.5h2.8v1.05h-2.8zM574.5 429.5h2.8v1.05h-2.8zM575.3 432.5h3.0v1.05h-3.0zM572.0 436.5h2.6v1.05h-2.6zM579.2 436.5h0.4v1.05h-0.4zM573.7 437.5h2.6v1.05h-2.6zM578.6 437.5h0.8v1.05h-0.8zM575.2 438.5h1.5v1.05h-1.5zM576.8 438.5h1.6v1.05h-1.6zM572.0 439.5h2.3v1.05h-2.3zM597.3 414.5h2.7v1.05h-2.7zM601.3 415.5h1.7v1.05h-1.7zM597.3 416.5h2.7v1.05h-2.7zM600.0 416.5h1.9v1.05h-1.9zM602.2 419.5h2.0v1.05h-2.0zM604.0 422.5h0.4v1.05h-0.4zM625.4 409.5h2.8v1.05h-2.8zM625.4 410.5h2.9v1.05h-2.9zM628.3 410.5h3.0v1.05h-3.0zM631.3 410.5h1.5v1.05h-1.5zM625.4 412.5h1.4v1.05h-1.4zM629.9 419.5h1.9v1.05h-1.9zM625.4 423.5h1.6v1.05h-1.6zM627.0 423.5h3.0v1.05h-3.0zM629.5 426.5h1.6v1.05h-1.6zM631.1 426.5h1.4v1.05h-1.4zM632.5 426.5h1.0v1.05h-1.0zM658.1 408.5h1.7v1.05h-1.7zM659.9 408.5h1.2v1.05h-1.2zM656.1 411.5h1.3v1.05h-1.3zM658.7 411.5h2.7v1.05h-2.7zM659.6 412.5h2.5v1.05h-2.5zM662.0 412.5h0.5v1.05h-0.5zM653.2 413.5h2.6v1.05h-2.6zM657.4 425.5h2.8v1.05h-2.8zM653.2 428.5h3.1v1.05h-3.1zM660.2 429.5h0.9v1.05h-0.9zM658.0 431.5h1.8v1.05h-1.8z" fill="#6c6c6c"/>
<path d="M520.6 408.5h2.1v1.05h-2.1zM522.1 410.5h2.0v1.05h-2.0zM523.4 411.5h2.8v1.05h-2.8zM576.4 416.5h1.8v1.05h-1.8zM574.5 422.5h1.9v1.05h-1.9zM578.0 422.5h1.5v1.05h-1.5zM572.0 424.5h2.7v1.05h-2.7zM577.4 424.5h2.8v1.05h-2.8zM576.5 425.5h1.6v1.05h-1.6zM603.0 415.5h0.9v1.05h-0.9zM601.4 418.5h1.7v1.05h-1.7zM625.4 408.5h2.9v1.05h-2.9zM628.2 412.5h1.9v1.05h-1.9zM630.0 412.5h2.4v1.05h-2.4zM630.1 418.5h3.1v1.05h-3.1zM627.4 419.5h2.5v1.05h-2.5zM657.4 411.5h1.3v1.05h-1.3zM653.2 416.5h2.9v1.05h-2.9zM656.1 416.5h2.3v1.05h-2.3zM658.9 421.5h1.7v1.05h-1.7zM653.2 427.5h1.7v1.05h-1.7zM654.9 427.5h3.1v1.05h-3.1zM659.9 427.5h1.5v1.05h-1.5zM655.2 430.5h2.3v1.05h-2.3zM657.5 430.5h2.5v1.05h-2.5z" fill="#606060"/>
<path d="M520.6 409.5h2.7v1.05h-2.7zM520.6 411.5h2.8v1.05h-2.8zM523.3 415.5h2.7v1.05h-2.7zM526.0 415.5h0.6v1.05h-0.6zM524.5 416.5h2.6v1.05h-2.6zM573.3 413.5h2.2v1.05h-2.2zM575.5 413.5h2.4v1.05h-2.4zM579.5 413.5h1.2v1.05h-1.2zM572.0 415.5h1.5v1.05h-1.5zM573.4 416.5h3.0v1.05h-3.0zM578.2 416.5h1.6v1.05h-1.6zM579.8 416.5h1.0v1.05h-1.0zM572.0 418.5h2.4v1.05h-2.4zM577.3 418.5h1.9v1.05h-1.9zM576.4 422.5h1.6v1.05h-1.6zM572.0 425.5h2.2v1.05h-2.2zM572.0 427.5h1.4v1.05h-1.4zM574.8 427.5h2.4v1.05h-2.4zM580.2 427.5h0.5v1.05h-0.5zM574.7 428.5h1.6v1.05h-1.6zM572.0 429.5h2.5v1.05h-2.5zM575.7 434.5h2.9v1.05h-2.9zM602.7 409.5h0.4v1.05h-0.4zM597.3 415.5h2.0v1.05h-2.0zM601.9 416.5h2.0v1.05h-2.0zM599.3 418.5h2.1v1.05h-2.1zM599.4 419.5h2.8v1.05h-2.8zM597.3 420.5h3.1v1.05h-3.1zM628.3 408.5h2.4v1.05h-2.4zM630.8 409.5h1.8v1.05h-1.8zM625.4 414.5h2.0v1.05h-2.0zM627.2 418.5h2.9v1.05h-2.9zM655.6 412.5h1.9v1.05h-1.9zM661.3 413.5h0.9v1.05h-0.9zM657.9 422.5h2.4v1.05h-2.4zM653.2 425.5h1.8v1.05h-1.8zM661.8 425.5h0.6v1.05h-0.6zM657.9 427.5h1.9v1.05h-1.9zM661.4 427.5h0.6v1.05h-0.6zM653.2 429.5h1.9v1.05h-1.9z" fill="#666666"/>
<path d="M577.9 413.5h1.6v1.05h-1.6zM572.0 421.5h2.2v1.05h-2.2zM577.2 421.5h3.2v1.05h-3.2zM599.3 415.5h2.0v1.05h-2.0zM597.3 418.5h2.0v1.05h-2.0zM632.5 412.5h1.5v1.05h-1.5zM625.4 415.5h2.6v1.05h-2.6zM628.0 415.5h2.9v1.05h-2.9zM656.2 421.5h2.7v1.05h-2.7zM660.0 430.5h0.7v1.05h-0.7z" fill="#5a5a5a"/>
<path d="M546.5 386 L546.5 377.5 Q552 376.5 556 377.5 T563 377 T570 377.5 L570 386 Z" fill="#dadada"/>
<rect x="546.5" y="387.0" width="23.5" height="6.0" fill="#dddddd"/>
</g>
<line x1="526.7" y1="368" x2="543.2" y2="368" stroke="#8a8a8a" stroke-width="1.1"/>
<line x1="577.9" y1="372" x2="594.6" y2="372" stroke="#8a8a8a" stroke-width="1.1"/>
<line x1="603.5" y1="371.6" x2="622.5" y2="371.6" stroke="#8a8a8a" stroke-width="1.1"/>
<line x1="631.5" y1="370.3" x2="649.5" y2="370.3" stroke="#8a8a8a" stroke-width="1.1"/>
<line x1="660.2" y1="371.5" x2="676.5" y2="371.5" stroke="#8a8a8a" stroke-width="1.1"/>
<path d="M532.1 349.4h1.8v1.3h-1.8zM535.5 347.6h1.8v1.3h-1.8zM536.9 349.5h1.8v1.3h-1.8zM582.8 350.7h1.8v1.3h-1.8zM582.1 351.1h1.8v1.3h-1.8zM586.5 353.3h1.8v1.3h-1.8zM615.3 351.4h1.8v1.3h-1.8zM612.0 351.4h1.8v1.3h-1.8zM610.4 352.7h1.8v1.3h-1.8zM644.1 352.7h1.8v1.3h-1.8zM636.7 351.9h1.8v1.3h-1.8zM643.7 351.0h1.8v1.3h-1.8zM672.5 354.5h1.8v1.3h-1.8zM671.0 354.1h1.8v1.3h-1.8zM670.1 354.4h1.8v1.3h-1.8z" fill="#a8a8a8"/>
<path d="M575.5 441.0h1.8v1.2h-1.8zM582.5 400.5h1.8v1.2h-1.8zM577.0 446.0h1.8v1.2h-1.8zM575.5 461.0h1.8v1.2h-1.8zM598.0 430.0h1.8v1.2h-1.8zM599.5 444.4h1.8v1.2h-1.8zM628.5 448.8h1.8v1.2h-1.8zM626.5 435.0h1.8v1.2h-1.8zM654.0 457.0h1.8v1.2h-1.8zM655.5 477.5h1.8v1.2h-1.8zM659.5 443.5h1.8v1.2h-1.8zM657.0 445.0h1.8v1.2h-1.8zM522.5 436.0h1.8v1.2h-1.8zM547.5 400.0h1.8v1.2h-1.8zM542.5 382.0h1.8v1.2h-1.8zM603.0 412.0h1.8v1.2h-1.8z" fill="#666"/>
<text x="530.7" y="360.8" font-size="5.6" fill="#5a5a5a" transform="rotate(-90 530.7 360.8)" textLength="9.0" lengthAdjust="spacingAndGlyphs">NF1</text>
<ellipse cx="528.7" cy="363.4" rx="1.7" ry="1.3" fill="none" stroke="#4a4a4a" stroke-width="0.9"/>
<text x="540.0" y="369.7" font-size="5.6" fill="#5a5a5a" transform="rotate(-90 540.0 369.7)" textLength="15.7" lengthAdjust="spacingAndGlyphs">PPM1D</text>
<ellipse cx="538.0" cy="372.3" rx="1.7" ry="1.3" fill="none" stroke="#4a4a4a" stroke-width="0.9"/>
<text x="581.6" y="364.1" font-size="5.6" fill="#5a5a5a" transform="rotate(-90 581.6 364.1)" textLength="9.0" lengthAdjust="spacingAndGlyphs">NF1</text>
<ellipse cx="579.6" cy="366.7" rx="1.7" ry="1.3" fill="none" stroke="#4a4a4a" stroke-width="0.9"/>
<text x="590.6" y="375.1" font-size="5.6" fill="#5a5a5a" transform="rotate(-90 590.6 375.1)" textLength="15.7" lengthAdjust="spacingAndGlyphs">PPM1D</text>
<ellipse cx="588.6" cy="377.7" rx="1.7" ry="1.3" fill="none" stroke="#4a4a4a" stroke-width="0.9"/>
<text x="609.0" y="365.6" font-size="5.6" fill="#5a5a5a" transform="rotate(-90 609.0 365.6)" textLength="9.0" lengthAdjust="spacingAndGlyphs">NF1</text>
<ellipse cx="607.0" cy="368.2" rx="1.7" ry="1.3" fill="none" stroke="#4a4a4a" stroke-width="0.9"/>
<text x="617.5" y="371.2" font-size="5.6" fill="#5a5a5a" transform="rotate(-90 617.5 371.2)" textLength="15.7" lengthAdjust="spacingAndGlyphs">PPM1D</text>
<ellipse cx="615.5" cy="373.8" rx="1.7" ry="1.3" fill="none" stroke="#4a4a4a" stroke-width="0.9"/>
<text x="637.6" y="364.7" font-size="5.6" fill="#5a5a5a" transform="rotate(-90 637.6 364.7)" textLength="9.0" lengthAdjust="spacingAndGlyphs">NF1</text>
<ellipse cx="635.6" cy="367.3" rx="1.7" ry="1.3" fill="none" stroke="#4a4a4a" stroke-width="0.9"/>
<text x="645.8" y="372.0" font-size="5.6" fill="#5a5a5a" transform="rotate(-90 645.8 372.0)" textLength="15.7" lengthAdjust="spacingAndGlyphs">PPM1D</text>
<ellipse cx="643.8" cy="374.6" rx="1.7" ry="1.3" fill="none" stroke="#4a4a4a" stroke-width="0.9"/>
<text x="665.9" y="369.6" font-size="5.6" fill="#5a5a5a" transform="rotate(-90 665.9 369.6)" textLength="9.0" lengthAdjust="spacingAndGlyphs">NF1</text>
<ellipse cx="663.9" cy="372.2" rx="1.7" ry="1.3" fill="none" stroke="#4a4a4a" stroke-width="0.9"/>
<text x="673.9" y="377.1" font-size="5.6" fill="#5a5a5a" transform="rotate(-90 673.9 377.1)" textLength="15.7" lengthAdjust="spacingAndGlyphs">PPM1D</text>
<ellipse cx="671.9" cy="379.7" rx="1.7" ry="1.3" fill="none" stroke="#4a4a4a" stroke-width="0.9"/>
<text x="551.1" y="377.3" font-size="5.6" fill="#5a5a5a" transform="rotate(-90 551.1 377.3)" textLength="11.5" lengthAdjust="spacingAndGlyphs">TP53</text>
<ellipse cx="549.0" cy="380.0" rx="1.7" ry="1.3" fill="none" stroke="#4a4a4a" stroke-width="0.9"/>
<text x="554.6" y="406.5" font-size="5.6" fill="#5a5a5a" transform="rotate(-90 554.6 406.5)" textLength="9.0" lengthAdjust="spacingAndGlyphs">NF1</text>
<ellipse cx="553.4" cy="395.2" rx="1.7" ry="1.3" fill="none" stroke="#4a4a4a" stroke-width="0.9"/>
<text x="564.3" y="411.2" font-size="5.6" fill="#5a5a5a" transform="rotate(-90 564.3 411.2)" textLength="15.3" lengthAdjust="spacingAndGlyphs">PPM1D</text>
<ellipse cx="562.4" cy="392.6" rx="1.7" ry="1.3" fill="none" stroke="#4a4a4a" stroke-width="0.9"/>
<line x1="546" y1="386.4" x2="570" y2="386.4" stroke="#6a6a6a" stroke-width="0.9"/>
<line x1="518.9" y1="284" x2="518.9" y2="489.5" stroke="#1a1a1a" stroke-width="2.5"/>
<line x1="544.8" y1="284" x2="544.8" y2="489.5" stroke="#1a1a1a" stroke-width="2.5"/>
<line x1="571.2" y1="284" x2="571.2" y2="489.5" stroke="#1a1a1a" stroke-width="2.5"/>
<line x1="595.8" y1="284" x2="595.8" y2="489.5" stroke="#1a1a1a" stroke-width="2.5"/>
<line x1="624" y1="284" x2="624" y2="489.5" stroke="#1a1a1a" stroke-width="2.5"/>
<line x1="651.5" y1="284" x2="651.5" y2="489.5" stroke="#1a1a1a" stroke-width="2.5"/>
<rect x="510.3" y="283.6" width="167.9" height="206.2" fill="none" stroke="#1a1a1a" stroke-width="2.9"/>
<text x="503.5" y="301.4" font-size="14" font-weight="normal" text-anchor="end" fill="#222" textLength="18.4" lengthAdjust="spacingAndGlyphs">1.2</text>
<line x1="507.3" y1="295" x2="509.3" y2="295" stroke="#888" stroke-width="0.9"/>
<text x="503.5" y="332" font-size="14" font-weight="normal" text-anchor="end" fill="#222" textLength="18.4" lengthAdjust="spacingAndGlyphs">1.8</text>
<line x1="507.3" y1="325.6" x2="509.3" y2="325.6" stroke="#888" stroke-width="0.9"/>
<text x="503.5" y="362.6" font-size="14" font-weight="normal" text-anchor="end" fill="#222" textLength="18.4" lengthAdjust="spacingAndGlyphs">0.4</text>
<line x1="507.3" y1="356.2" x2="509.3" y2="356.2" stroke="#888" stroke-width="0.9"/>
<text x="503.5" y="393.2" font-size="14" font-weight="normal" text-anchor="end" fill="#222" textLength="18.4" lengthAdjust="spacingAndGlyphs">0.0</text>
<line x1="507.3" y1="386.8" x2="509.3" y2="386.8" stroke="#888" stroke-width="0.9"/>
<text x="503.5" y="423.8" font-size="14" font-weight="normal" text-anchor="end" fill="#222" textLength="25.2" lengthAdjust="spacingAndGlyphs">-0.4</text>
<line x1="507.3" y1="417.4" x2="509.3" y2="417.4" stroke="#888" stroke-width="0.9"/>
<text x="503.5" y="454.4" font-size="14" font-weight="normal" text-anchor="end" fill="#222" textLength="25.2" lengthAdjust="spacingAndGlyphs">-0.8</text>
<line x1="507.3" y1="448" x2="509.3" y2="448" stroke="#888" stroke-width="0.9"/>
<text x="503.5" y="485" font-size="14" font-weight="normal" text-anchor="end" fill="#222" textLength="25.2" lengthAdjust="spacingAndGlyphs">-1.2</text>
<line x1="507.3" y1="478.6" x2="509.3" y2="478.6" stroke="#888" stroke-width="0.9"/>
<text x="532.4" y="504.7" font-size="12.4" font-weight="bold" text-anchor="middle" fill="#222" textLength="21.6" lengthAdjust="spacingAndGlyphs">P11</text>
<text x="558.65" y="504.7" font-size="12.4" font-weight="bold" text-anchor="middle" fill="#222" textLength="21.7" lengthAdjust="spacingAndGlyphs">P13</text>
<text x="584.85" y="504.7" font-size="12.4" font-weight="bold" text-anchor="middle" fill="#222" textLength="21.9" lengthAdjust="spacingAndGlyphs">P14</text>
<text x="612.8" y="504.7" font-size="12.4" font-weight="bold" text-anchor="middle" fill="#222" textLength="21.2" lengthAdjust="spacingAndGlyphs">P17</text>
<text x="638.85" y="504.7" font-size="12.4" font-weight="bold" text-anchor="middle" fill="#222" textLength="21.7" lengthAdjust="spacingAndGlyphs">P20</text>
<text x="665.85" y="504.7" font-size="12.4" font-weight="bold" text-anchor="middle" fill="#222" textLength="22.1" lengthAdjust="spacingAndGlyphs">P22</text>
<line x1="520.9" y1="508.6" x2="592.3" y2="508.6" stroke="#1a1a1a" stroke-width="2.7"/>
<line x1="604.7" y1="508.6" x2="675.2" y2="508.6" stroke="#1a1a1a" stroke-width="2.7"/>
<text x="561.9" y="525.9" font-size="13.6" font-weight="bold" text-anchor="middle" fill="#222" textLength="51.9" lengthAdjust="spacingAndGlyphs">Group 3</text>
<text x="643.7" y="525.9" font-size="13.6" font-weight="bold" text-anchor="middle" fill="#222" textLength="52.7" lengthAdjust="spacingAndGlyphs">Group 4</text>
</svg>
</body></html>
